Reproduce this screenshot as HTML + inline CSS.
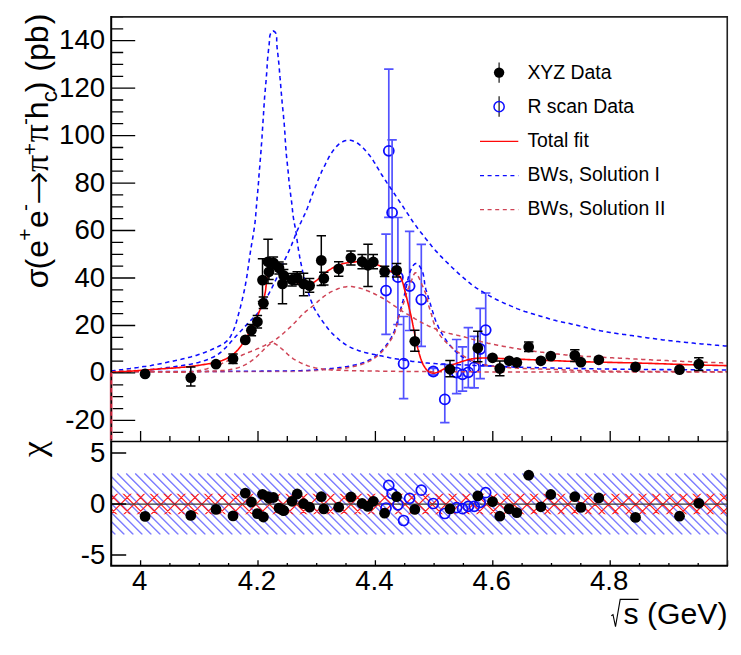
<!DOCTYPE html>
<html><head><meta charset="utf-8"><title>plot</title><style>html,body{margin:0;padding:0;background:#fff}</style></head><body>
<svg width="741" height="655" viewBox="0 0 741 655" style="display:block">
<rect width="741" height="655" fill="#fff"/>
<defs>
<clipPath id="cb"><rect x="111.2" y="473.0" width="616.05" height="61.8"/></clipPath>
<clipPath id="cr"><rect x="111.2" y="493.8" width="616.05" height="20.4"/></clipPath>
<clipPath id="cu"><rect x="111.2" y="16.9" width="616.05" height="424.5"/></clipPath>
</defs>
<path d="M9.2,473.4l61.2,61.2M18.2,473.4l61.2,61.2M27.2,473.4l61.2,61.2M36.2,473.4l61.2,61.2M45.2,473.4l61.2,61.2M54.2,473.4l61.2,61.2M63.2,473.4l61.2,61.2M72.2,473.4l61.2,61.2M81.2,473.4l61.2,61.2M90.2,473.4l61.2,61.2M99.2,473.4l61.2,61.2M108.2,473.4l61.2,61.2M117.2,473.4l61.2,61.2M126.2,473.4l61.2,61.2M135.2,473.4l61.2,61.2M144.2,473.4l61.2,61.2M153.2,473.4l61.2,61.2M162.2,473.4l61.2,61.2M171.2,473.4l61.2,61.2M180.2,473.4l61.2,61.2M189.2,473.4l61.2,61.2M198.2,473.4l61.2,61.2M207.2,473.4l61.2,61.2M216.2,473.4l61.2,61.2M225.2,473.4l61.2,61.2M234.2,473.4l61.2,61.2M243.2,473.4l61.2,61.2M252.2,473.4l61.2,61.2M261.2,473.4l61.2,61.2M270.2,473.4l61.2,61.2M279.2,473.4l61.2,61.2M288.2,473.4l61.2,61.2M297.2,473.4l61.2,61.2M306.2,473.4l61.2,61.2M315.2,473.4l61.2,61.2M324.2,473.4l61.2,61.2M333.2,473.4l61.2,61.2M342.2,473.4l61.2,61.2M351.2,473.4l61.2,61.2M360.2,473.4l61.2,61.2M369.2,473.4l61.2,61.2M378.2,473.4l61.2,61.2M387.2,473.4l61.2,61.2M396.2,473.4l61.2,61.2M405.2,473.4l61.2,61.2M414.2,473.4l61.2,61.2M423.2,473.4l61.2,61.2M432.2,473.4l61.2,61.2M441.2,473.4l61.2,61.2M450.2,473.4l61.2,61.2M459.2,473.4l61.2,61.2M468.2,473.4l61.2,61.2M477.2,473.4l61.2,61.2M486.2,473.4l61.2,61.2M495.2,473.4l61.2,61.2M504.2,473.4l61.2,61.2M513.2,473.4l61.2,61.2M522.2,473.4l61.2,61.2M531.2,473.4l61.2,61.2M540.2,473.4l61.2,61.2M549.2,473.4l61.2,61.2M558.2,473.4l61.2,61.2M567.2,473.4l61.2,61.2M576.2,473.4l61.2,61.2M585.2,473.4l61.2,61.2M594.2,473.4l61.2,61.2M603.2,473.4l61.2,61.2M612.2,473.4l61.2,61.2M621.2,473.4l61.2,61.2M630.2,473.4l61.2,61.2M639.2,473.4l61.2,61.2M648.2,473.4l61.2,61.2M657.2,473.4l61.2,61.2M666.2,473.4l61.2,61.2M675.2,473.4l61.2,61.2M684.2,473.4l61.2,61.2M693.2,473.4l61.2,61.2M702.2,473.4l61.2,61.2M711.2,473.4l61.2,61.2M720.2,473.4l61.2,61.2M729.2,473.4l61.2,61.2" stroke="#7e7eff" stroke-width="1.35" fill="none" clip-path="url(#cb)"/>
<path d="M2.1,467.6l60,60M62.1,467.6l-60,60M15.7,467.6l60,60M75.7,467.6l-60,60M29.2,467.6l60,60M89.2,467.6l-60,60M42.8,467.6l60,60M102.8,467.6l-60,60M56.4,467.6l60,60M116.4,467.6l-60,60M69.9,467.6l60,60M129.9,467.6l-60,60M83.5,467.6l60,60M143.5,467.6l-60,60M97.1,467.6l60,60M157.1,467.6l-60,60M110.6,467.6l60,60M170.6,467.6l-60,60M124.2,467.6l60,60M184.2,467.6l-60,60M137.8,467.6l60,60M197.8,467.6l-60,60M151.3,467.6l60,60M211.3,467.6l-60,60M164.9,467.6l60,60M224.9,467.6l-60,60M178.5,467.6l60,60M238.5,467.6l-60,60M192.0,467.6l60,60M252.0,467.6l-60,60M205.6,467.6l60,60M265.6,467.6l-60,60M219.1,467.6l60,60M279.1,467.6l-60,60M232.7,467.6l60,60M292.7,467.6l-60,60M246.3,467.6l60,60M306.3,467.6l-60,60M259.8,467.6l60,60M319.8,467.6l-60,60M273.4,467.6l60,60M333.4,467.6l-60,60M287.0,467.6l60,60M347.0,467.6l-60,60M300.5,467.6l60,60M360.5,467.6l-60,60M314.1,467.6l60,60M374.1,467.6l-60,60M327.7,467.6l60,60M387.7,467.6l-60,60M341.2,467.6l60,60M401.2,467.6l-60,60M354.8,467.6l60,60M414.8,467.6l-60,60M368.4,467.6l60,60M428.4,467.6l-60,60M381.9,467.6l60,60M441.9,467.6l-60,60M395.5,467.6l60,60M455.5,467.6l-60,60M409.1,467.6l60,60M469.1,467.6l-60,60M422.6,467.6l60,60M482.6,467.6l-60,60M436.2,467.6l60,60M496.2,467.6l-60,60M449.8,467.6l60,60M509.8,467.6l-60,60M463.3,467.6l60,60M523.3,467.6l-60,60M476.9,467.6l60,60M536.9,467.6l-60,60M490.4,467.6l60,60M550.4,467.6l-60,60M504.0,467.6l60,60M564.0,467.6l-60,60M517.6,467.6l60,60M577.6,467.6l-60,60M531.1,467.6l60,60M591.1,467.6l-60,60M544.7,467.6l60,60M604.7,467.6l-60,60M558.3,467.6l60,60M618.3,467.6l-60,60M571.8,467.6l60,60M631.8,467.6l-60,60M585.4,467.6l60,60M645.4,467.6l-60,60M599.0,467.6l60,60M659.0,467.6l-60,60M612.5,467.6l60,60M672.5,467.6l-60,60M626.1,467.6l60,60M686.1,467.6l-60,60M639.7,467.6l60,60M699.7,467.6l-60,60M653.2,467.6l60,60M713.2,467.6l-60,60M666.8,467.6l60,60M726.8,467.6l-60,60M680.4,467.6l60,60M740.4,467.6l-60,60M693.9,467.6l60,60M753.9,467.6l-60,60M707.5,467.6l60,60M767.5,467.6l-60,60M721.1,467.6l60,60M781.1,467.6l-60,60M734.6,467.6l60,60M794.6,467.6l-60,60" stroke="#ff1a1a" stroke-width="1.15" fill="none" clip-path="url(#cr)"/>
<line x1="111.2" y1="504.0" x2="727.25" y2="504.0" stroke="#333" stroke-width="1.25"/>
<g clip-path="url(#cu)" fill="none" stroke-linecap="butt">
<path d="M386,234.2V334.4M381.3,234.2h9.4M381.3,334.4h9.4" stroke="#5252ff" stroke-width="1.7"/>
<circle cx="386" cy="290.6" r="5" stroke="#0c0cff" stroke-width="1.8"/>
<path d="M388.8,69.2V217.4M384.1,69.2h9.4M384.1,217.4h9.4" stroke="#5252ff" stroke-width="1.7"/>
<circle cx="388.8" cy="150.8" r="5" stroke="#0c0cff" stroke-width="1.8"/>
<path d="M392.1,139.8V272M387.40000000000003,139.8h9.4M387.40000000000003,272h9.4" stroke="#5252ff" stroke-width="1.7"/>
<circle cx="392.1" cy="212.6" r="5" stroke="#0c0cff" stroke-width="1.8"/>
<path d="M397.9,217.5V324.5M393.2,217.5h9.4M393.2,324.5h9.4" stroke="#5252ff" stroke-width="1.7"/>
<circle cx="397.9" cy="277.2" r="5" stroke="#0c0cff" stroke-width="1.8"/>
<path d="M403.6,316.5V398.6M398.90000000000003,316.5h9.4M398.90000000000003,398.6h9.4" stroke="#5252ff" stroke-width="1.7"/>
<circle cx="403.6" cy="363.7" r="5" stroke="#0c0cff" stroke-width="1.8"/>
<path d="M409.6,231.3V330.5M404.90000000000003,231.3h9.4M404.90000000000003,330.5h9.4" stroke="#5252ff" stroke-width="1.7"/>
<circle cx="409.6" cy="286.1" r="5" stroke="#0c0cff" stroke-width="1.8"/>
<path d="M421.3,244.3V346.4M416.6,244.3h9.4M416.6,346.4h9.4" stroke="#5252ff" stroke-width="1.7"/>
<circle cx="421.3" cy="299.6" r="5" stroke="#0c0cff" stroke-width="1.8"/>
<path d="M433.3,368.3V374.7M428.6,368.3h9.4M428.6,374.7h9.4" stroke="#5252ff" stroke-width="1.7"/>
<circle cx="433.3" cy="371.5" r="5" stroke="#0c0cff" stroke-width="1.8"/>
<path d="M444.8,364.5V422.6M440.1,364.5h9.4M440.1,422.6h9.4" stroke="#5252ff" stroke-width="1.7"/>
<circle cx="444.8" cy="399.4" r="5" stroke="#0c0cff" stroke-width="1.8"/>
<path d="M456.6,339.5V393.6M451.90000000000003,339.5h9.4M451.90000000000003,393.6h9.4" stroke="#5252ff" stroke-width="1.7"/>
<circle cx="456.6" cy="372.6" r="5" stroke="#0c0cff" stroke-width="1.8"/>
<path d="M462.5,346.8V391.1M457.8,346.8h9.4M457.8,391.1h9.4" stroke="#5252ff" stroke-width="1.7"/>
<circle cx="462.5" cy="374.3" r="5" stroke="#0c0cff" stroke-width="1.8"/>
<path d="M468.3,327.6V387.7M463.6,327.6h9.4M463.6,387.7h9.4" stroke="#5252ff" stroke-width="1.7"/>
<circle cx="468.3" cy="372.3" r="5" stroke="#0c0cff" stroke-width="1.8"/>
<path d="M474.2,336.4V387.8M469.5,336.4h9.4M469.5,387.8h9.4" stroke="#5252ff" stroke-width="1.7"/>
<circle cx="474.2" cy="367.4" r="5" stroke="#0c0cff" stroke-width="1.8"/>
<path d="M480.2,308.4V378.7M475.5,308.4h9.4M475.5,378.7h9.4" stroke="#5252ff" stroke-width="1.7"/>
<circle cx="480.2" cy="349" r="5" stroke="#0c0cff" stroke-width="1.8"/>
<path d="M485.7,293V366M481.0,293h9.4M481.0,366h9.4" stroke="#5252ff" stroke-width="1.7"/>
<circle cx="485.7" cy="330.1" r="5" stroke="#0c0cff" stroke-width="1.8"/>
<path d="M111.2,371.1 L113.1,370.8 L115.0,370.5 L116.9,370.3 L118.8,370.0 L120.7,369.7 L122.6,369.5 L124.5,369.2 L126.4,369.0 L128.3,368.7 L130.2,368.5 L132.1,368.2 L134.1,368.0 L136.0,367.7 L137.9,367.5 L139.8,367.2 L141.7,366.9 L143.6,366.6 L145.5,366.4 L147.4,366.1 L149.3,365.8 L151.2,365.5 L153.1,365.1 L154.9,364.8 L156.8,364.4 L158.7,364.1 L160.6,363.7 L162.5,363.3 L164.4,362.9 L166.3,362.5 L168.1,362.1 L170.0,361.7 L171.9,361.3 L173.8,360.9 L175.7,360.5 L177.5,360.1 L179.4,359.7 L181.3,359.3 L183.2,358.8 L185.0,358.4 L186.9,357.9 L188.8,357.4 L190.6,357.0 L192.5,356.5 L194.3,355.9 L196.2,355.4 L198.0,354.8 L199.8,354.2 L201.6,353.6 L203.4,352.9 L205.2,352.3 L207.0,351.6 L208.8,350.8 L210.5,350.1 L212.3,349.3 L214.1,348.5 L215.8,347.7 L217.6,346.9 L219.3,346.0 L221.1,345.1 L222.8,344.2 L224.4,343.1 L225.9,341.9 L227.3,340.7 L228.5,339.2 L229.7,337.7 L230.7,336.1 L231.6,334.3 L232.5,332.6 L233.3,330.8 L234.0,329.0 L234.7,327.2 L235.3,325.3 L235.9,323.5 L236.5,321.7 L237.0,319.8 L237.5,318.0 L238.0,316.1 L238.5,314.3 L239.0,312.4 L239.5,310.6 L240.0,308.7 L240.5,306.9 L240.9,305.0 L241.4,303.1 L241.8,301.3 L242.3,299.4 L242.7,297.5 L243.2,295.6 L243.6,293.8 L244.0,291.9 L244.4,290.0 L244.8,288.1 L245.1,286.2 L245.5,284.3 L245.8,282.5 L246.2,280.6 L246.5,278.7 L246.8,276.8 L247.1,274.9 L247.4,273.0 L247.7,271.1 L247.9,269.2 L248.2,267.3 L248.5,265.4 L248.7,263.5 L249.0,261.5 L249.3,259.6 L249.5,257.7 L249.8,255.8 L250.1,253.9 L250.4,252.0 L250.7,250.1 L251.0,248.2 L251.3,246.3 L251.6,244.5 L251.9,242.6 L252.2,240.7 L252.6,238.8 L252.9,236.9 L253.2,235.0 L253.5,233.1 L253.8,231.2 L254.1,229.3 L254.4,227.4 L254.6,225.5 L254.9,223.6 L255.1,221.7 L255.3,219.7 L255.5,217.8 L255.7,215.9 L255.8,214.0 L256.0,212.1 L256.1,210.2 L256.3,208.3 L256.4,206.3 L256.6,204.4 L256.7,202.5 L256.9,200.6 L257.1,198.7 L257.2,196.8 L257.4,194.9 L257.6,192.9 L257.8,191.0 L257.9,189.1 L258.1,187.2 L258.3,185.3 L258.4,183.4 L258.6,181.5 L258.7,179.5 L258.8,177.6 L259.0,175.7 L259.1,173.8 L259.3,171.9 L259.4,170.0 L259.6,168.0 L259.8,166.1 L259.9,164.2 L260.1,162.3 L260.2,160.4 L260.4,158.5 L260.6,156.6 L260.7,154.6 L260.9,152.7 L261.0,150.8 L261.2,148.9 L261.3,147.0 L261.4,145.1 L261.6,143.1 L261.7,141.2 L261.8,139.3 L262.0,137.4 L262.1,135.5 L262.2,133.5 L262.3,131.6 L262.5,129.7 L262.6,127.8 L262.7,125.9 L262.8,124.0 L263.0,122.0 L263.1,120.1 L263.2,118.2 L263.3,116.3 L263.5,114.4 L263.6,112.5 L263.7,110.5 L263.8,108.6 L264.0,106.7 L264.1,104.8 L264.2,102.9 L264.4,100.9 L264.5,99.0 L264.6,97.1 L264.8,95.2 L265.0,93.3 L265.1,91.4 L265.3,89.5 L265.4,87.5 L265.6,85.6 L265.8,83.7 L266.0,81.8 L266.1,79.9 L266.3,78.0 L266.4,76.1 L266.6,74.1 L266.7,72.2 L266.8,70.3 L267.0,68.4 L267.1,66.5 L267.2,64.5 L267.3,62.6 L267.4,60.7 L267.6,58.8 L267.8,56.9 L267.9,55.0 L268.2,53.1 L268.4,51.1 L268.6,49.2 L268.8,47.3 L269.1,45.4 L269.2,43.5 L269.4,41.6 L269.5,39.7 L269.6,37.8 L269.8,35.9 L270.4,34.0 L271.5,32.2 L273.1,31.0 L274.7,31.7 L275.9,33.4 L276.5,35.3 L276.7,37.2 L276.7,39.1 L276.7,41.1 L276.8,43.0 L276.9,44.9 L277.0,46.8 L277.2,48.7 L277.4,50.7 L277.7,52.6 L277.9,54.5 L278.1,56.4 L278.3,58.3 L278.5,60.2 L278.7,62.1 L278.9,64.0 L279.0,65.9 L279.2,67.9 L279.4,69.8 L279.5,71.7 L279.7,73.6 L279.9,75.5 L280.0,77.4 L280.2,79.4 L280.3,81.3 L280.5,83.2 L280.7,85.1 L280.8,87.0 L281.0,88.9 L281.1,90.8 L281.3,92.8 L281.5,94.7 L281.6,96.6 L281.8,98.5 L282.0,100.4 L282.1,102.3 L282.3,104.2 L282.5,106.2 L282.7,108.1 L282.9,110.0 L283.1,111.9 L283.3,113.8 L283.5,115.7 L283.6,117.6 L283.8,119.5 L284.0,121.5 L284.2,123.4 L284.3,125.3 L284.5,127.2 L284.6,129.1 L284.7,131.0 L284.9,133.0 L285.0,134.9 L285.1,136.8 L285.2,138.7 L285.3,140.6 L285.5,142.5 L285.6,144.5 L285.7,146.4 L285.9,148.3 L286.0,150.2 L286.2,152.1 L286.3,154.0 L286.5,156.0 L286.7,157.9 L286.9,159.8 L287.1,161.7 L287.3,163.6 L287.5,165.5 L287.7,167.4 L287.9,169.3 L288.1,171.2 L288.3,173.2 L288.5,175.1 L288.6,177.0 L288.8,178.9 L289.0,180.8 L289.2,182.7 L289.4,184.6 L289.6,186.5 L289.9,188.5 L290.1,190.4 L290.3,192.3 L290.6,194.2 L290.8,196.1 L291.1,198.0 L291.3,199.9 L291.6,201.8 L291.8,203.7 L292.0,205.6 L292.2,207.5 L292.4,209.4 L292.6,211.4 L292.8,213.3 L293.1,215.2 L293.3,217.1 L293.6,219.0 L293.9,220.9 L294.3,222.8 L294.6,224.6 L295.0,226.5 L295.4,228.4 L295.7,230.3 L296.0,232.2 L296.3,234.1 L296.5,236.0 L296.8,237.9 L297.0,239.8 L297.3,241.7 L297.6,243.6 L297.8,245.5 L298.1,247.4 L298.4,249.3 L298.7,251.2 L299.1,253.1 L299.4,255.0 L299.7,256.9 L300.1,258.8 L300.5,260.7 L300.8,262.6 L301.2,264.5 L301.6,266.3 L302.0,268.2 L302.4,270.1 L302.8,272.0 L303.3,273.8 L303.7,275.7 L304.2,277.6 L304.7,279.4 L305.1,281.3 L305.6,283.2 L306.2,285.0 L306.7,286.9 L307.2,288.7 L307.8,290.5 L308.3,292.4 L308.9,294.2 L309.5,296.0 L310.1,297.9 L310.7,299.7 L311.4,301.5 L312.1,303.3 L312.8,305.1 L313.6,306.8 L314.4,308.6 L315.3,310.2 L316.3,311.9 L317.3,313.5 L318.4,315.2 L319.4,316.8 L320.5,318.3 L321.6,319.9 L322.7,321.5 L323.9,323.1 L325.0,324.6 L326.2,326.1 L327.3,327.7 L328.5,329.2 L329.8,330.6 L331.0,332.1 L332.3,333.5 L333.7,334.9 L335.1,336.2 L336.5,337.5 L338.0,338.7 L339.4,340.0 L340.9,341.2 L342.5,342.4 L344.0,343.5 L345.6,344.6 L347.2,345.6 L348.9,346.5 L350.6,347.4 L352.4,348.2 L354.2,348.9 L356.0,349.6 L357.8,350.3 L359.6,350.9 L361.4,351.5 L363.3,352.0 L365.1,352.6 L367.0,353.0 L368.9,353.5 L370.7,353.9 L372.6,354.2 L374.5,354.6 L376.4,355.0 L378.3,355.3 L380.2,355.7 L382.1,356.1 L383.9,356.5 L385.8,356.9 L387.7,357.3 L389.6,357.7 L391.5,358.0 L393.4,358.4 L395.2,358.7 L397.1,359.0 L399.0,359.3 L400.9,359.6 L402.8,359.9 L404.7,360.2 L406.6,360.5 L408.5,360.8 L410.4,361.1 L412.3,361.4 L414.2,361.6 L416.2,361.9 L418.1,362.1 L420.0,362.3 L421.9,362.5 L423.8,362.7 L425.7,362.9 L427.6,363.0 L429.5,363.2 L431.5,363.3 L433.4,363.4 L435.3,363.6 L437.2,363.7 L439.1,363.8 L441.0,363.9 L443.0,364.0 L444.9,364.1 L446.8,364.2 L448.7,364.3 L450.6,364.4 L452.6,364.4 L454.5,364.5 L456.4,364.6 L458.3,364.7 L460.2,364.8 L462.2,364.9 L464.1,365.0 L466.0,365.0 L467.9,365.1 L469.8,365.2 L471.8,365.3 L473.7,365.4 L475.6,365.4 L477.5,365.5 L479.4,365.6 L481.4,365.7 L483.3,365.7 L485.2,365.8 L487.1,365.9 L489.0,366.0 L491.0,366.0 L492.9,366.1 L494.8,366.2 L496.7,366.3 L498.6,366.3 L500.6,366.4 L502.5,366.5 L504.4,366.6 L506.3,366.6 L508.3,366.7 L510.2,366.8 L512.1,366.9 L514.0,366.9 L515.9,367.0 L517.9,367.1 L519.8,367.1 L521.7,367.2 L523.6,367.3 L525.5,367.3 L527.5,367.4 L529.4,367.4 L531.3,367.5 L533.2,367.6 L535.1,367.6 L537.1,367.7 L539.0,367.7 L540.9,367.8 L542.8,367.8 L544.7,367.8 L546.7,367.9 L548.6,367.9 L550.5,368.0 L552.4,368.0 L554.4,368.0 L556.3,368.1 L558.2,368.1 L560.1,368.2 L562.0,368.2 L564.0,368.2 L565.9,368.3 L567.8,368.3 L569.7,368.3 L571.6,368.4 L573.6,368.4 L575.5,368.4 L577.4,368.5 L579.3,368.5 L581.3,368.6 L583.2,368.6 L585.1,368.6 L587.0,368.7 L588.9,368.7 L590.9,368.7 L592.8,368.8 L594.7,368.8 L596.6,368.8 L598.5,368.9 L600.5,368.9 L602.4,368.9 L604.3,369.0 L606.2,369.0 L608.2,369.0 L610.1,369.1 L612.0,369.1 L613.9,369.1 L615.8,369.1 L617.8,369.2 L619.7,369.2 L621.6,369.2 L623.5,369.2 L625.4,369.3 L627.4,369.3 L629.3,369.3 L631.2,369.3 L633.1,369.3 L635.1,369.4 L637.0,369.4 L638.9,369.4 L640.8,369.4 L642.7,369.4 L644.7,369.5 L646.6,369.5 L648.5,369.5 L650.4,369.5 L652.4,369.5 L654.3,369.5 L656.2,369.5 L658.1,369.6 L660.0,369.6 L662.0,369.6 L663.9,369.6 L665.8,369.6 L667.7,369.6 L669.6,369.6 L671.6,369.7 L673.5,369.7 L675.4,369.7 L677.3,369.7 L679.3,369.7 L681.2,369.7 L683.1,369.7 L685.0,369.7 L686.9,369.7 L688.9,369.8 L690.8,369.8 L692.7,369.8 L694.6,369.8 L696.6,369.8 L698.5,369.8 L700.4,369.8 L702.3,369.8 L704.2,369.9 L706.2,369.9 L708.1,369.9 L710.0,369.9 L711.9,369.9 L713.8,369.9 L715.8,369.9 L717.7,369.9 L719.6,369.9 L721.5,370.0 L723.5,370.0 L725.4,370.0 L727.3,370.0" stroke="#0c0cff" stroke-width="1.55" stroke-dasharray="4.3 3.5"/>
<path d="M111.2,371.3 L112.6,371.4 L114.0,371.4 L115.4,371.4 L116.7,371.5 L118.1,371.5 L119.5,371.5 L120.9,371.5 L122.2,371.5 L123.6,371.5 L125.0,371.5 L126.4,371.4 L127.8,371.4 L129.1,371.3 L130.5,371.3 L131.9,371.2 L133.2,371.1 L134.6,371.1 L136.0,371.0 L137.4,370.9 L138.7,370.8 L140.1,370.7 L141.5,370.6 L142.8,370.5 L144.2,370.3 L145.6,370.2 L146.9,370.1 L148.3,369.9 L149.6,369.8 L151.0,369.6 L152.4,369.5 L153.7,369.3 L155.1,369.2 L156.5,369.0 L157.8,368.9 L159.2,368.7 L160.6,368.5 L161.9,368.3 L163.3,368.2 L164.6,368.0 L166.0,367.8 L167.4,367.6 L168.7,367.4 L170.1,367.2 L171.5,367.1 L172.8,366.9 L174.2,366.7 L175.5,366.5 L176.9,366.3 L178.3,366.1 L179.6,365.9 L181.0,365.7 L182.3,365.5 L183.7,365.3 L185.1,365.1 L186.4,364.9 L187.8,364.6 L189.1,364.4 L190.5,364.2 L191.8,363.9 L193.2,363.6 L194.5,363.3 L195.9,363.0 L197.2,362.7 L198.5,362.4 L199.9,362.0 L201.2,361.7 L202.5,361.3 L203.8,360.9 L205.1,360.4 L206.4,360.0 L207.7,359.5 L209.0,359.0 L210.3,358.5 L211.5,357.9 L212.8,357.3 L214.0,356.7 L215.2,356.0 L216.4,355.3 L217.5,354.6 L218.7,353.8 L219.8,353.0 L220.9,352.2 L221.9,351.3 L222.9,350.3 L223.9,349.4 L224.9,348.4 L225.9,347.5 L226.8,346.4 L227.8,345.4 L228.7,344.4 L229.6,343.4 L230.5,342.3 L231.4,341.3 L232.3,340.3 L233.2,339.2 L234.1,338.2 L235.0,337.2 L235.9,336.2 L236.9,335.2 L237.8,334.2 L238.8,333.2 L239.7,332.2 L240.6,331.2 L241.6,330.2 L242.5,329.2 L243.5,328.1 L244.4,327.1 L245.3,326.1 L246.3,325.1 L247.2,324.1 L248.1,323.1 L249.1,322.1 L250.0,321.1 L251.0,320.1 L251.9,319.2 L252.9,318.2 L253.9,317.2 L254.9,316.3 L255.9,315.3 L256.8,314.3 L257.7,313.3 L258.6,312.2 L259.4,311.1 L260.2,310.0 L260.9,308.9 L261.6,307.7 L262.3,306.5 L263.0,305.3 L263.7,304.1 L264.3,302.8 L264.9,301.6 L265.5,300.4 L266.2,299.1 L266.8,297.9 L267.4,296.6 L268.0,295.4 L268.6,294.2 L269.3,292.9 L269.9,291.7 L270.5,290.5 L271.1,289.3 L271.8,288.0 L272.4,286.8 L273.0,285.6 L273.6,284.4 L274.2,283.1 L274.8,281.9 L275.4,280.7 L276.0,279.5 L276.6,278.2 L277.2,277.0 L277.8,275.7 L278.3,274.5 L278.9,273.2 L279.5,272.0 L280.0,270.7 L280.6,269.5 L281.1,268.2 L281.7,266.9 L282.2,265.7 L282.8,264.4 L283.3,263.2 L283.9,261.9 L284.5,260.6 L285.0,259.4 L285.6,258.2 L286.2,256.9 L286.8,255.7 L287.3,254.4 L287.9,253.2 L288.5,251.9 L289.1,250.7 L289.6,249.4 L290.2,248.2 L290.7,246.9 L291.3,245.6 L291.8,244.4 L292.3,243.1 L292.8,241.8 L293.3,240.5 L293.8,239.3 L294.3,238.0 L294.8,236.7 L295.3,235.4 L295.9,234.1 L296.4,232.9 L296.9,231.6 L297.4,230.3 L297.9,229.1 L298.5,227.8 L299.0,226.5 L299.6,225.3 L300.1,224.0 L300.7,222.8 L301.3,221.5 L301.9,220.3 L302.5,219.1 L303.0,217.8 L303.6,216.6 L304.2,215.3 L304.8,214.1 L305.3,212.8 L305.9,211.6 L306.4,210.3 L307.0,209.0 L307.5,207.8 L308.0,206.5 L308.5,205.2 L309.0,203.9 L309.5,202.6 L309.9,201.3 L310.4,200.0 L310.8,198.7 L311.3,197.4 L311.8,196.2 L312.2,194.9 L312.7,193.6 L313.2,192.3 L313.7,191.0 L314.2,189.7 L314.7,188.4 L315.2,187.2 L315.7,185.9 L316.3,184.6 L316.8,183.4 L317.3,182.1 L317.8,180.8 L318.3,179.5 L318.8,178.3 L319.4,177.0 L319.9,175.7 L320.4,174.5 L321.0,173.2 L321.5,171.9 L322.1,170.7 L322.7,169.5 L323.3,168.3 L324.0,167.0 L324.6,165.8 L325.2,164.6 L325.8,163.3 L326.4,162.1 L327.0,160.9 L327.6,159.6 L328.3,158.4 L328.9,157.2 L329.6,156.0 L330.3,154.8 L331.0,153.7 L331.8,152.5 L332.6,151.4 L333.4,150.3 L334.2,149.2 L335.1,148.2 L336.0,147.1 L336.9,146.1 L337.9,145.1 L338.9,144.2 L340.0,143.4 L341.2,142.6 L342.4,141.9 L343.6,141.3 L344.9,140.8 L346.2,140.5 L347.6,140.3 L349.0,140.2 L350.4,140.3 L351.7,140.6 L353.0,141.0 L354.3,141.5 L355.6,142.1 L356.8,142.8 L358.0,143.5 L359.1,144.4 L360.1,145.2 L361.2,146.1 L362.2,147.1 L363.1,148.0 L364.1,149.0 L365.0,150.0 L366.0,151.1 L366.9,152.1 L367.8,153.1 L368.6,154.2 L369.5,155.3 L370.3,156.4 L371.1,157.5 L371.9,158.6 L372.6,159.8 L373.4,160.9 L374.1,162.1 L374.9,163.3 L375.6,164.4 L376.3,165.6 L377.0,166.8 L377.7,168.0 L378.4,169.2 L379.1,170.3 L379.8,171.5 L380.5,172.7 L381.2,173.9 L381.9,175.0 L382.7,176.2 L383.4,177.4 L384.1,178.5 L384.9,179.7 L385.7,180.8 L386.4,181.9 L387.2,183.1 L388.0,184.2 L388.7,185.4 L389.5,186.5 L390.3,187.6 L391.0,188.8 L391.8,189.9 L392.6,191.1 L393.3,192.2 L394.1,193.3 L394.9,194.5 L395.6,195.6 L396.4,196.8 L397.2,197.9 L397.9,199.1 L398.7,200.2 L399.4,201.3 L400.2,202.5 L401.0,203.6 L401.7,204.8 L402.5,205.9 L403.3,207.0 L404.0,208.2 L404.8,209.3 L405.5,210.5 L406.3,211.6 L407.0,212.8 L407.8,213.9 L408.6,215.1 L409.3,216.2 L410.1,217.4 L410.8,218.5 L411.6,219.7 L412.3,220.8 L413.1,222.0 L413.9,223.1 L414.7,224.2 L415.5,225.3 L416.3,226.4 L417.1,227.5 L417.9,228.6 L418.8,229.7 L419.6,230.8 L420.5,231.9 L421.3,233.0 L422.2,234.0 L423.0,235.1 L423.9,236.2 L424.7,237.3 L425.6,238.4 L426.4,239.4 L427.3,240.5 L428.1,241.6 L429.0,242.7 L429.8,243.7 L430.7,244.8 L431.6,245.9 L432.5,246.9 L433.3,248.0 L434.2,249.0 L435.1,250.1 L436.0,251.1 L437.0,252.1 L437.9,253.1 L438.8,254.1 L439.8,255.1 L440.7,256.1 L441.7,257.1 L442.6,258.1 L443.6,259.1 L444.6,260.0 L445.5,261.0 L446.5,262.0 L447.5,262.9 L448.5,263.9 L449.5,264.9 L450.5,265.8 L451.4,266.8 L452.4,267.7 L453.4,268.7 L454.4,269.6 L455.4,270.6 L456.4,271.5 L457.4,272.4 L458.4,273.4 L459.5,274.3 L460.5,275.2 L461.5,276.1 L462.6,277.0 L463.6,277.9 L464.7,278.8 L465.7,279.7 L466.8,280.6 L467.8,281.4 L468.9,282.3 L469.9,283.2 L471.0,284.1 L472.1,284.9 L473.2,285.7 L474.3,286.5 L475.4,287.3 L476.5,288.1 L477.7,288.8 L478.9,289.6 L480.0,290.3 L481.2,291.0 L482.4,291.7 L483.6,292.4 L484.8,293.1 L485.9,293.8 L487.1,294.5 L488.3,295.2 L489.5,295.9 L490.7,296.5 L491.9,297.2 L493.1,297.9 L494.3,298.5 L495.6,299.1 L496.8,299.7 L498.0,300.3 L499.3,300.9 L500.5,301.5 L501.8,302.1 L503.0,302.6 L504.3,303.2 L505.5,303.7 L506.8,304.2 L508.1,304.8 L509.3,305.3 L510.6,305.9 L511.9,306.4 L513.1,307.0 L514.4,307.5 L515.6,308.0 L516.9,308.6 L518.2,309.1 L519.5,309.6 L520.8,310.0 L522.1,310.5 L523.4,310.9 L524.7,311.4 L526.0,311.8 L527.3,312.2 L528.6,312.6 L529.9,313.0 L531.2,313.4 L532.5,313.8 L533.9,314.2 L535.2,314.6 L536.5,315.0 L537.8,315.4 L539.1,315.8 L540.4,316.2 L541.8,316.6 L543.1,317.0 L544.4,317.3 L545.7,317.7 L547.0,318.1 L548.3,318.5 L549.7,318.9 L551.0,319.3 L552.3,319.6 L553.6,320.0 L555.0,320.3 L556.3,320.7 L557.6,321.0 L559.0,321.3 L560.3,321.6 L561.7,321.9 L563.0,322.2 L564.3,322.5 L565.7,322.8 L567.0,323.0 L568.4,323.3 L569.7,323.6 L571.1,323.9 L572.4,324.2 L573.7,324.5 L575.1,324.8 L576.4,325.1 L577.8,325.4 L579.1,325.8 L580.4,326.1 L581.8,326.4 L583.1,326.8 L584.4,327.1 L585.8,327.4 L587.1,327.8 L588.4,328.1 L589.8,328.4 L591.1,328.7 L592.4,329.1 L593.8,329.4 L595.1,329.7 L596.4,330.0 L597.8,330.2 L599.1,330.5 L600.5,330.8 L601.8,331.0 L603.2,331.3 L604.5,331.5 L605.9,331.8 L607.2,332.0 L608.6,332.2 L610.0,332.4 L611.3,332.6 L612.7,332.9 L614.0,333.1 L615.4,333.3 L616.8,333.5 L618.1,333.7 L619.5,333.9 L620.8,334.1 L622.2,334.2 L623.6,334.4 L624.9,334.6 L626.3,334.8 L627.6,335.0 L629.0,335.2 L630.4,335.4 L631.7,335.6 L633.1,335.8 L634.5,335.9 L635.8,336.1 L637.2,336.3 L638.5,336.5 L639.9,336.7 L641.3,336.9 L642.6,337.1 L644.0,337.3 L645.3,337.5 L646.7,337.7 L648.1,337.9 L649.4,338.0 L650.8,338.2 L652.1,338.4 L653.5,338.6 L654.9,338.8 L656.2,339.0 L657.6,339.1 L659.0,339.3 L660.3,339.5 L661.7,339.7 L663.0,339.9 L664.4,340.0 L665.8,340.2 L667.1,340.4 L668.5,340.5 L669.9,340.7 L671.2,340.8 L672.6,341.0 L673.9,341.2 L675.3,341.3 L676.7,341.5 L678.0,341.6 L679.4,341.8 L680.8,341.9 L682.1,342.0 L683.5,342.2 L684.9,342.3 L686.2,342.5 L687.6,342.6 L689.0,342.7 L690.3,342.9 L691.7,343.0 L693.1,343.1 L694.4,343.2 L695.8,343.4 L697.2,343.5 L698.6,343.6 L699.9,343.7 L701.3,343.9 L702.7,344.0 L704.0,344.1 L705.4,344.2 L706.8,344.3 L708.1,344.5 L709.5,344.6 L710.9,344.7 L712.2,344.8 L713.6,344.9 L715.0,345.1 L716.4,345.2 L717.7,345.3 L719.1,345.4 L720.5,345.5 L721.8,345.6 L723.2,345.7 L724.6,345.9 L725.9,346.0 L727.3,346.1" stroke="#0c0cff" stroke-width="1.55" stroke-dasharray="4.3 3.5"/>
<path d="M111.2,371.5 L112.1,371.5 L113.0,371.5 L113.9,371.5 L114.8,371.5 L115.7,371.5 L116.6,371.5 L117.5,371.5 L118.4,371.5 L119.3,371.5 L120.2,371.5 L121.1,371.5 L121.9,371.5 L122.8,371.5 L123.7,371.5 L124.6,371.5 L125.5,371.5 L126.4,371.5 L127.3,371.5 L128.2,371.5 L129.1,371.5 L130.0,371.5 L130.9,371.5 L131.8,371.5 L132.7,371.5 L133.6,371.5 L134.5,371.5 L135.4,371.5 L136.3,371.5 L137.2,371.5 L138.1,371.5 L139.0,371.5 L139.9,371.5 L140.7,371.5 L141.6,371.5 L142.5,371.5 L143.4,371.5 L144.3,371.5 L145.2,371.5 L146.1,371.5 L147.0,371.5 L147.9,371.5 L148.8,371.5 L149.7,371.5 L150.6,371.5 L151.5,371.5 L152.4,371.5 L153.3,371.5 L154.2,371.5 L155.1,371.5 L156.0,371.5 L156.9,371.5 L157.8,371.5 L158.6,371.5 L159.5,371.5 L160.4,371.5 L161.3,371.5 L162.2,371.5 L163.1,371.5 L164.0,371.5 L164.9,371.5 L165.8,371.5 L166.7,371.5 L167.6,371.5 L168.5,371.5 L169.4,371.5 L170.3,371.5 L171.2,371.5 L172.1,371.5 L173.0,371.5 L173.9,371.5 L174.8,371.5 L175.6,371.5 L176.5,371.5 L177.4,371.5 L178.3,371.5 L179.2,371.5 L180.1,371.5 L181.0,371.5 L181.9,371.5 L182.8,371.5 L183.7,371.5 L184.6,371.5 L185.5,371.5 L186.4,371.5 L187.3,371.5 L188.2,371.5 L189.1,371.5 L190.0,371.5 L190.9,371.5 L191.8,371.5 L192.6,371.5 L193.5,371.5 L194.4,371.5 L195.3,371.5 L196.2,371.5 L197.1,371.5 L198.0,371.5 L198.9,371.5 L199.8,371.5 L200.7,371.4 L201.6,371.4 L202.5,371.4 L203.4,371.4 L204.3,371.4 L205.2,371.4 L206.1,371.4 L207.0,371.4 L207.9,371.4 L208.7,371.4 L209.6,371.4 L210.5,371.4 L211.4,371.4 L212.3,371.4 L213.2,371.4 L214.1,371.4 L215.0,371.4 L215.9,371.4 L216.8,371.4 L217.7,371.4 L218.6,371.4 L219.5,371.4 L220.4,371.4 L221.3,371.4 L222.2,371.4 L223.1,371.4 L224.0,371.4 L224.9,371.4 L225.7,371.4 L226.6,371.4 L227.5,371.3 L228.4,371.3 L229.3,371.3 L230.2,371.3 L231.1,371.3 L232.0,371.3 L232.9,371.3 L233.8,371.3 L234.7,371.3 L235.6,371.3 L236.5,371.3 L237.4,371.3 L238.3,371.3 L239.2,371.3 L240.1,371.3 L241.0,371.3 L241.9,371.3 L242.7,371.3 L243.6,371.3 L244.5,371.3 L245.4,371.3 L246.3,371.2 L247.2,371.2 L248.1,371.2 L249.0,371.2 L249.9,371.2 L250.8,371.2 L251.7,371.2 L252.6,371.2 L253.5,371.2 L254.4,371.2 L255.3,371.2 L256.2,371.2 L257.1,371.2 L258.0,371.2 L258.9,371.2 L259.8,371.2 L260.6,371.2 L261.5,371.1 L262.4,371.1 L263.3,371.1 L264.2,371.1 L265.1,371.1 L266.0,371.1 L266.9,371.1 L267.8,371.1 L268.7,371.1 L269.6,371.1 L270.5,371.1 L271.4,371.1 L272.3,371.1 L273.2,371.1 L274.1,371.1 L275.0,371.0 L275.9,371.0 L276.8,371.0 L277.7,371.0 L278.6,371.0 L279.5,371.0 L280.3,371.0 L281.2,371.0 L282.1,371.0 L283.0,371.0 L283.9,371.0 L284.8,371.0 L285.7,370.9 L286.6,370.9 L287.5,370.9 L288.4,370.9 L289.3,370.9 L290.2,370.9 L291.1,370.9 L292.0,370.9 L292.9,370.8 L293.8,370.8 L294.7,370.8 L295.6,370.8 L296.5,370.8 L297.4,370.8 L298.3,370.7 L299.2,370.7 L300.1,370.7 L300.9,370.7 L301.8,370.6 L302.7,370.6 L303.6,370.6 L304.5,370.5 L305.4,370.5 L306.3,370.5 L307.2,370.4 L308.1,370.4 L309.0,370.3 L309.9,370.3 L310.8,370.2 L311.7,370.2 L312.6,370.1 L313.5,370.1 L314.4,370.0 L315.2,370.0 L316.1,369.9 L317.0,369.8 L317.9,369.8 L318.8,369.7 L319.7,369.6 L320.6,369.5 L321.5,369.5 L322.4,369.4 L323.3,369.3 L324.2,369.2 L325.0,369.1 L325.9,369.0 L326.8,368.9 L327.7,368.9 L328.6,368.8 L329.5,368.7 L330.4,368.6 L331.3,368.5 L332.2,368.4 L333.1,368.3 L334.0,368.2 L334.8,368.1 L335.7,368.0 L336.6,367.9 L337.5,367.8 L338.4,367.7 L339.3,367.6 L340.2,367.5 L341.1,367.4 L342.0,367.3 L342.8,367.2 L343.7,367.1 L344.6,367.0 L345.5,366.8 L346.4,366.7 L347.3,366.5 L348.1,366.4 L349.0,366.2 L349.9,366.0 L350.8,365.9 L351.7,365.7 L352.5,365.5 L353.4,365.3 L354.3,365.1 L355.2,364.9 L356.0,364.7 L356.9,364.5 L357.8,364.2 L358.6,364.0 L359.5,363.8 L360.4,363.5 L361.2,363.3 L362.1,363.0 L362.9,362.7 L363.8,362.4 L364.6,362.1 L365.5,361.8 L366.3,361.4 L367.1,361.1 L367.9,360.7 L368.7,360.3 L369.5,359.9 L370.3,359.5 L371.1,359.1 L371.9,358.6 L372.6,358.1 L373.4,357.6 L374.1,357.1 L374.9,356.6 L375.6,356.1 L376.3,355.5 L377.0,355.0 L377.7,354.4 L378.4,353.8 L379.0,353.2 L379.7,352.6 L380.3,352.0 L381.0,351.4 L381.6,350.7 L382.2,350.1 L382.8,349.4 L383.4,348.7 L384.0,348.1 L384.6,347.4 L385.1,346.7 L385.7,346.0 L386.2,345.3 L386.8,344.6 L387.3,343.8 L387.8,343.1 L388.3,342.3 L388.8,341.6 L389.3,340.8 L389.8,340.1 L390.2,339.3 L390.7,338.5 L391.1,337.8 L391.5,337.0 L391.9,336.2 L392.4,335.4 L392.7,334.6 L393.1,333.8 L393.5,332.9 L393.8,332.1 L394.2,331.3 L394.5,330.5 L394.8,329.6 L395.1,328.8 L395.4,327.9 L395.7,327.1 L396.0,326.2 L396.2,325.4 L396.5,324.5 L396.7,323.7 L397.0,322.8 L397.2,321.9 L397.5,321.1 L397.7,320.2 L397.9,319.3 L398.1,318.5 L398.4,317.6 L398.6,316.7 L398.8,315.9 L399.1,315.0 L399.3,314.1 L399.5,313.3 L399.8,312.4 L400.0,311.6 L400.2,310.7 L400.5,309.8 L400.7,309.0 L401.0,308.1 L401.2,307.3 L401.5,306.4 L401.7,305.5 L401.9,304.7 L402.2,303.8 L402.4,303.0 L402.7,302.1 L402.9,301.2 L403.1,300.4 L403.3,299.5 L403.6,298.6 L403.8,297.7 L404.0,296.9 L404.2,296.0 L404.4,295.1 L404.6,294.2 L404.8,293.3 L405.1,292.4 L405.3,291.6 L405.4,290.7 L405.6,289.8 L405.8,288.9 L406.0,288.0 L406.2,287.1 L406.4,286.3 L406.6,285.4 L406.8,284.5 L407.0,283.7 L407.1,282.8 L407.3,281.9 L407.5,281.1 L407.7,280.2 L407.9,279.4 L408.1,278.6 L408.3,277.8 L408.5,276.9 L408.7,276.1 L408.9,275.3 L409.1,274.5 L409.4,273.6 L409.7,272.8 L410.0,271.9 L410.3,271.1 L410.7,270.2 L411.1,269.3 L411.5,268.4 L412.0,267.5 L412.5,266.6 L413.1,265.7 L413.7,264.9 L414.3,264.3 L415.0,263.8 L415.7,263.5 L416.4,263.5 L417.1,263.8 L417.8,264.2 L418.5,264.9 L419.1,265.6 L419.8,266.5 L420.4,267.4 L420.9,268.3 L421.4,269.2 L421.8,270.1 L422.2,271.0 L422.6,271.9 L422.8,272.8 L423.1,273.6 L423.3,274.5 L423.5,275.4 L423.7,276.2 L423.8,277.1 L423.9,277.9 L424.0,278.8 L424.2,279.6 L424.3,280.5 L424.4,281.3 L424.5,282.2 L424.6,283.0 L424.7,283.9 L424.9,284.7 L425.0,285.6 L425.2,286.5 L425.4,287.3 L425.6,288.2 L425.8,289.0 L426.0,289.9 L426.3,290.8 L426.5,291.6 L426.8,292.5 L427.0,293.4 L427.3,294.2 L427.6,295.1 L427.9,295.9 L428.1,296.8 L428.4,297.7 L428.7,298.5 L429.0,299.4 L429.2,300.3 L429.5,301.1 L429.8,302.0 L430.1,302.9 L430.3,303.7 L430.6,304.6 L430.8,305.4 L431.1,306.3 L431.4,307.2 L431.6,308.0 L431.9,308.9 L432.1,309.7 L432.4,310.6 L432.6,311.4 L432.9,312.3 L433.2,313.2 L433.4,314.0 L433.7,314.9 L434.0,315.7 L434.2,316.5 L434.5,317.4 L434.8,318.2 L435.1,319.1 L435.4,319.9 L435.7,320.8 L436.1,321.6 L436.4,322.4 L436.7,323.3 L437.1,324.1 L437.4,324.9 L437.8,325.7 L438.2,326.5 L438.5,327.4 L438.9,328.2 L439.3,329.0 L439.7,329.8 L440.2,330.6 L440.6,331.3 L441.0,332.1 L441.5,332.9 L441.9,333.7 L442.4,334.4 L442.8,335.2 L443.3,336.0 L443.8,336.7 L444.3,337.5 L444.8,338.2 L445.3,339.0 L445.8,339.7 L446.3,340.4 L446.8,341.2 L447.4,341.9 L447.9,342.6 L448.4,343.3 L449.0,344.0 L449.5,344.7 L450.1,345.4 L450.7,346.1 L451.3,346.8 L451.8,347.5 L452.4,348.1 L453.0,348.8 L453.7,349.5 L454.3,350.1 L454.9,350.7 L455.5,351.4 L456.2,352.0 L456.9,352.6 L457.5,353.2 L458.2,353.8 L458.9,354.4 L459.6,354.9 L460.3,355.5 L461.0,356.0 L461.8,356.5 L462.5,357.0 L463.3,357.4 L464.1,357.9 L464.8,358.3 L465.6,358.8 L466.4,359.2 L467.2,359.6 L468.0,360.0 L468.9,360.3 L469.7,360.7 L470.5,361.0 L471.4,361.3 L472.2,361.7 L473.0,362.0 L473.9,362.3 L474.7,362.5 L475.6,362.8 L476.4,363.1 L477.3,363.3 L478.2,363.5 L479.0,363.8 L479.9,364.0 L480.8,364.2 L481.7,364.4 L482.5,364.6 L483.4,364.7 L484.3,364.9 L485.2,365.1 L486.0,365.2 L486.9,365.3 L487.8,365.5 L488.7,365.6 L489.6,365.7 L490.5,365.8 L491.4,365.9 L492.3,366.0 L493.2,366.1 L494.0,366.2 L494.9,366.3 L495.8,366.3 L496.7,366.4 L497.6,366.5 L498.5,366.5 L499.4,366.6 L500.3,366.6 L501.2,366.7 L502.1,366.7 L503.0,366.7 L503.9,366.8 L504.8,366.8 L505.7,366.8 L506.6,366.9 L507.5,366.9 L508.4,366.9 L509.3,366.9 L510.2,367.0 L511.1,367.0 L512.0,367.0 L512.9,367.0 L513.8,367.0 L514.7,367.1 L515.6,367.1 L516.5,367.1 L517.3,367.1 L518.2,367.1 L519.1,367.2 L520.0,367.2" stroke="#0c0cff" stroke-width="1.55" stroke-dasharray="4.3 3.5"/>
<path d="M111.2,372.0 L112.3,372.0 L113.3,371.9 L114.4,371.9 L115.4,371.9 L116.5,371.8 L117.5,371.8 L118.6,371.8 L119.6,371.8 L120.7,371.8 L121.8,371.7 L122.8,371.7 L123.9,371.7 L124.9,371.7 L126.0,371.7 L127.0,371.7 L128.1,371.7 L129.1,371.6 L130.2,371.6 L131.3,371.6 L132.3,371.6 L133.4,371.6 L134.4,371.6 L135.5,371.6 L136.5,371.6 L137.6,371.6 L138.6,371.6 L139.7,371.6 L140.8,371.6 L141.8,371.6 L142.9,371.6 L143.9,371.6 L145.0,371.6 L146.0,371.6 L147.1,371.6 L148.1,371.6 L149.2,371.6 L150.3,371.7 L151.3,371.7 L152.4,371.7 L153.4,371.7 L154.5,371.7 L155.5,371.7 L156.6,371.7 L157.6,371.7 L158.7,371.7 L159.8,371.7 L160.8,371.7 L161.9,371.7 L162.9,371.7 L164.0,371.7 L165.0,371.8 L166.1,371.8 L167.2,371.8 L168.2,371.8 L169.3,371.8 L170.3,371.8 L171.4,371.8 L172.4,371.8 L173.5,371.8 L174.5,371.8 L175.6,371.8 L176.7,371.8 L177.7,371.8 L178.8,371.8 L179.8,371.8 L180.9,371.8 L181.9,371.8 L183.0,371.8 L184.0,371.8 L185.1,371.8 L186.2,371.8 L187.2,371.8 L188.3,371.8 L189.3,371.7 L190.4,371.7 L191.4,371.7 L192.5,371.7 L193.5,371.7 L194.6,371.7 L195.7,371.7 L196.7,371.6 L197.8,371.6 L198.8,371.6 L199.9,371.6 L200.9,371.5 L202.0,371.5 L203.0,371.5 L204.1,371.4 L205.2,371.4 L206.2,371.4 L207.3,371.3 L208.3,371.3 L209.4,371.3 L210.4,371.2 L211.5,371.2 L212.5,371.1 L213.6,371.1 L214.7,371.0 L215.7,371.0 L216.8,370.9 L217.8,370.8 L218.9,370.8 L219.9,370.7 L221.0,370.6 L222.0,370.5 L223.1,370.5 L224.1,370.4 L225.2,370.2 L226.2,370.1 L227.3,370.0 L228.3,369.9 L229.4,369.7 L230.4,369.5 L231.5,369.3 L232.5,369.2 L233.5,368.9 L234.6,368.7 L235.6,368.5 L236.6,368.2 L237.6,367.9 L238.6,367.6 L239.6,367.2 L240.6,366.9 L241.6,366.5 L242.6,366.0 L243.5,365.6 L244.5,365.1 L245.4,364.7 L246.4,364.1 L247.3,363.6 L248.2,363.1 L249.1,362.5 L250.0,361.9 L250.8,361.3 L251.7,360.7 L252.5,360.1 L253.4,359.4 L254.2,358.8 L255.0,358.1 L255.8,357.4 L256.6,356.7 L257.4,356.0 L258.2,355.3 L258.9,354.5 L259.7,353.8 L260.4,353.0 L261.2,352.3 L261.9,351.5 L262.7,350.8 L263.4,350.0 L264.1,349.3 L264.9,348.5 L265.6,347.8 L266.3,347.1 L267.1,346.4 L267.9,345.7 L268.7,345.0 L269.6,344.3 L270.5,343.7 L271.5,343.2 L272.5,343.0 L273.5,343.1 L274.5,343.5 L275.5,344.0 L276.4,344.6 L277.3,345.2 L278.1,345.8 L278.9,346.4 L279.7,347.1 L280.5,347.8 L281.3,348.5 L282.1,349.1 L282.9,349.8 L283.7,350.5 L284.5,351.3 L285.3,352.0 L286.1,352.7 L286.8,353.4 L287.6,354.2 L288.4,354.9 L289.2,355.6 L290.0,356.3 L290.8,356.9 L291.6,357.6 L292.5,358.2 L293.3,358.8 L294.2,359.4 L295.1,359.9 L296.0,360.4 L297.0,360.9 L297.9,361.4 L298.9,361.9 L299.8,362.4 L300.8,362.9 L301.7,363.3 L302.7,363.8 L303.6,364.2 L304.6,364.6 L305.6,365.0 L306.6,365.4 L307.6,365.8 L308.6,366.1 L309.6,366.4 L310.6,366.8 L311.6,367.0 L312.6,367.3 L313.6,367.5 L314.7,367.8 L315.7,368.0 L316.7,368.2 L317.8,368.4 L318.8,368.5 L319.9,368.7 L320.9,368.8 L322.0,369.0 L323.0,369.1 L324.1,369.2 L325.1,369.3 L326.2,369.4 L327.2,369.5 L328.3,369.6 L329.3,369.7 L330.4,369.8 L331.4,369.9 L332.5,369.9 L333.5,370.0 L334.6,370.1 L335.6,370.1 L336.7,370.2 L337.8,370.2 L338.8,370.3 L339.9,370.3 L340.9,370.3 L342.0,370.4 L343.0,370.4 L344.1,370.4 L345.1,370.5 L346.2,370.5 L347.2,370.5 L348.3,370.6 L349.4,370.6 L350.4,370.6 L351.5,370.6 L352.5,370.7 L353.6,370.7 L354.6,370.7 L355.7,370.7 L356.7,370.8 L357.8,370.8 L358.9,370.8 L359.9,370.8 L361.0,370.8 L362.0,370.9 L363.1,370.9 L364.1,370.9 L365.2,370.9 L366.2,370.9 L367.3,371.0 L368.4,371.0 L369.4,371.0 L370.5,371.0 L371.5,371.0 L372.6,371.1 L373.6,371.1 L374.7,371.1 L375.7,371.1 L376.8,371.1 L377.9,371.1 L378.9,371.2 L380.0,371.2 L381.0,371.2 L382.1,371.2 L383.1,371.2 L384.2,371.2 L385.2,371.2 L386.3,371.2 L387.4,371.3 L388.4,371.3 L389.5,371.3 L390.5,371.3 L391.6,371.3 L392.6,371.3 L393.7,371.3 L394.7,371.3 L395.8,371.4 L396.9,371.4 L397.9,371.4 L399.0,371.4 L400.0,371.4 L401.1,371.4 L402.1,371.4 L403.2,371.4 L404.2,371.4 L405.3,371.5 L406.4,371.5 L407.4,371.5 L408.5,371.5 L409.5,371.5 L410.6,371.5 L411.6,371.5 L412.7,371.5 L413.7,371.5 L414.8,371.5 L415.9,371.5 L416.9,371.5 L418.0,371.6 L419.0,371.6 L420.1,371.6 L421.1,371.6 L422.2,371.6 L423.3,371.6 L424.3,371.6 L425.4,371.6 L426.4,371.6 L427.5,371.6 L428.5,371.6 L429.6,371.6 L430.6,371.6 L431.7,371.7 L432.8,371.7 L433.8,371.7 L434.9,371.7 L435.9,371.7 L437.0,371.7 L438.0,371.7 L439.1,371.7 L440.1,371.7 L441.2,371.7 L442.3,371.7 L443.3,371.7 L444.4,371.7 L445.4,371.7 L446.5,371.7 L447.5,371.7 L448.6,371.7 L449.6,371.7 L450.7,371.8 L451.8,371.8 L452.8,371.8 L453.9,371.8 L454.9,371.8 L456.0,371.8 L457.0,371.8 L458.1,371.8 L459.1,371.8 L460.2,371.8 L461.3,371.8 L462.3,371.8 L463.4,371.8 L464.4,371.8 L465.5,371.8 L466.5,371.8 L467.6,371.8 L468.6,371.8 L469.7,371.8 L470.8,371.8 L471.8,371.8 L472.9,371.8 L473.9,371.8 L475.0,371.8 L476.0,371.8 L477.1,371.8 L478.1,371.8 L479.2,371.9 L480.3,371.9 L481.3,371.9 L482.4,371.9 L483.4,371.9 L484.5,371.9 L485.5,371.9 L486.6,371.9 L487.7,371.9 L488.7,371.9 L489.8,371.9 L490.8,371.9 L491.9,371.9 L492.9,371.9 L494.0,371.9 L495.0,371.9 L496.1,371.9 L497.2,371.9 L498.2,371.9 L499.3,371.9 L500.3,371.9 L501.4,371.9 L502.4,371.9 L503.5,371.9 L504.5,371.9 L505.6,371.9 L506.7,371.9 L507.7,371.9 L508.8,371.9 L509.8,371.9 L510.9,371.9 L511.9,371.9 L513.0,371.9 L514.0,371.9 L515.1,371.9 L516.2,371.9 L517.2,371.9 L518.3,371.9 L519.3,371.9 L520.4,371.9 L521.4,371.9 L522.5,371.9 L523.5,371.9 L524.6,371.9 L525.7,371.9 L526.7,371.9 L527.8,371.9 L528.8,371.9 L529.9,372.0 L530.9,372.0 L532.0,372.0 L533.0,372.0 L534.1,372.0 L535.2,372.0 L536.2,372.0 L537.3,372.0 L538.3,372.0 L539.4,372.0 L540.4,372.0 L541.5,372.0 L542.5,372.0 L543.6,372.0 L544.7,372.0 L545.7,372.0 L546.8,372.0 L547.8,372.0 L548.9,372.0 L549.9,372.0 L551.0,372.0 L552.1,372.0 L553.1,372.0 L554.2,372.0 L555.2,372.0 L556.3,372.0 L557.3,372.0 L558.4,372.0 L559.4,372.0 L560.5,372.0 L561.6,372.0 L562.6,372.0 L563.7,372.0 L564.7,372.0 L565.8,372.0 L566.8,372.0 L567.9,372.0 L568.9,372.0 L570.0,372.0 L571.1,372.0 L572.1,372.0 L573.2,372.0 L574.2,372.0 L575.3,372.0 L576.3,372.0 L577.4,372.0 L578.4,372.0 L579.5,372.0 L580.6,372.0 L581.6,372.0 L582.7,372.0 L583.7,372.0 L584.8,372.0 L585.8,372.0 L586.9,372.0 L587.9,372.0 L589.0,372.0 L590.1,372.0 L591.1,372.0 L592.2,372.0 L593.2,372.0 L594.3,372.0 L595.3,372.0 L596.4,372.0 L597.4,372.0 L598.5,372.0 L599.6,372.0 L600.6,372.0 L601.7,372.0 L602.7,372.0 L603.8,372.0 L604.8,372.0 L605.9,372.0 L606.9,372.0 L608.0,372.0 L609.1,372.0 L610.1,372.0 L611.2,372.0 L612.2,372.0 L613.3,372.0 L614.3,372.0 L615.4,372.0 L616.4,372.0 L617.5,372.0 L618.6,372.0 L619.6,372.0 L620.7,372.0 L621.7,372.0 L622.8,372.0 L623.8,372.0 L624.9,372.0 L626.0,372.0 L627.0,372.0 L628.1,372.0 L629.1,372.0 L630.2,372.0 L631.2,372.0 L632.3,372.0 L633.3,372.0 L634.4,372.0 L635.5,372.0 L636.5,372.0 L637.6,372.0 L638.6,372.0 L639.7,372.0 L640.7,372.0 L641.8,372.0 L642.8,372.0 L643.9,372.0 L645.0,372.0 L646.0,372.0 L647.1,372.0 L648.1,372.0 L649.2,372.0 L650.2,372.0 L651.3,372.0 L652.3,372.0 L653.4,372.0 L654.5,372.0 L655.5,372.0 L656.6,372.0 L657.6,372.0 L658.7,372.0 L659.7,372.0 L660.8,372.0 L661.8,372.0 L662.9,372.0 L664.0,372.0 L665.0,372.0 L666.1,372.0 L667.1,372.0 L668.2,372.0 L669.2,372.0 L670.3,372.0 L671.3,372.0 L672.4,372.0 L673.5,372.0 L674.5,372.0 L675.6,372.0 L676.6,372.0 L677.7,372.0 L678.7,372.0 L679.8,372.0 L680.8,372.0 L681.9,372.0 L683.0,372.0 L684.0,372.0 L685.1,372.0 L686.1,372.0 L687.2,372.0 L688.2,372.0 L689.3,372.0 L690.3,371.9 L691.4,371.9 L692.5,371.9 L693.5,371.9 L694.6,371.9 L695.6,371.9 L696.7,371.9 L697.7,371.9 L698.8,371.9 L699.9,371.9 L700.9,371.9 L702.0,371.9 L703.0,371.9 L704.1,371.9 L705.1,371.9 L706.2,371.9 L707.2,371.9 L708.3,371.9 L709.4,371.9 L710.4,371.9 L711.5,371.9 L712.5,371.9 L713.6,371.9 L714.6,371.9 L715.7,371.9 L716.7,371.9 L717.8,371.9 L718.9,371.9 L719.9,371.9 L721.0,371.9 L722.0,371.9 L723.1,371.9 L724.1,371.9 L725.2,371.9 L726.2,371.9 L727.3,371.9" stroke="#cf4456" stroke-width="1.5" stroke-dasharray="4.3 3.5"/>
<path d="M111.2,372.0 L112.3,371.8 L113.4,371.7 L114.4,371.6 L115.5,371.4 L116.6,371.3 L117.7,371.2 L118.8,371.1 L119.9,371.0 L120.9,370.9 L122.0,370.9 L123.1,370.8 L124.2,370.8 L125.3,370.7 L126.4,370.7 L127.5,370.6 L128.6,370.6 L129.7,370.6 L130.7,370.6 L131.8,370.6 L132.9,370.6 L134.0,370.6 L135.1,370.6 L136.2,370.7 L137.3,370.7 L138.4,370.7 L139.5,370.8 L140.6,370.8 L141.7,370.8 L142.8,370.9 L143.9,370.9 L145.0,371.0 L146.1,371.0 L147.2,371.1 L148.3,371.1 L149.4,371.2 L150.5,371.3 L151.6,371.3 L152.7,371.4 L153.8,371.5 L154.9,371.5 L156.0,371.6 L157.1,371.6 L158.2,371.7 L159.3,371.8 L160.4,371.8 L161.5,371.9 L162.6,371.9 L163.7,372.0 L164.8,372.0 L165.9,372.1 L167.0,372.1 L168.1,372.2 L169.2,372.2 L170.3,372.2 L171.4,372.3 L172.5,372.3 L173.6,372.3 L174.7,372.3 L175.8,372.3 L176.9,372.3 L178.0,372.3 L179.1,372.3 L180.1,372.3 L181.2,372.2 L182.3,372.2 L183.4,372.2 L184.5,372.1 L185.6,372.1 L186.7,372.0 L187.8,371.9 L188.9,371.8 L190.0,371.7 L191.0,371.6 L192.1,371.5 L193.2,371.4 L194.3,371.2 L195.4,371.1 L196.5,370.9 L197.5,370.8 L198.6,370.6 L199.7,370.4 L200.8,370.2 L201.8,370.0 L202.9,369.7 L204.0,369.5 L205.1,369.2 L206.1,369.0 L207.2,368.7 L208.2,368.4 L209.3,368.1 L210.3,367.8 L211.4,367.5 L212.4,367.1 L213.5,366.8 L214.5,366.4 L215.5,366.0 L216.6,365.7 L217.6,365.3 L218.6,364.9 L219.6,364.4 L220.6,364.0 L221.6,363.6 L222.6,363.1 L223.6,362.7 L224.6,362.3 L225.6,361.8 L226.6,361.4 L227.6,360.9 L228.6,360.5 L229.6,360.1 L230.7,359.7 L231.7,359.3 L232.7,358.9 L233.7,358.5 L234.8,358.2 L235.8,357.8 L236.8,357.4 L237.8,357.0 L238.8,356.6 L239.8,356.1 L240.8,355.7 L241.8,355.3 L242.8,354.8 L243.8,354.4 L244.9,354.0 L245.9,353.5 L246.9,353.1 L247.9,352.7 L248.9,352.3 L249.9,351.9 L250.9,351.5 L251.9,351.0 L252.9,350.6 L253.9,350.2 L255.0,349.8 L256.0,349.4 L257.0,348.9 L258.0,348.5 L259.0,348.1 L260.0,347.6 L261.0,347.2 L262.0,346.7 L262.9,346.3 L263.9,345.8 L264.9,345.3 L265.9,344.8 L266.9,344.4 L267.9,343.9 L268.9,343.4 L269.8,342.9 L270.8,342.4 L271.8,341.8 L272.7,341.3 L273.6,340.7 L274.6,340.2 L275.5,339.6 L276.4,339.0 L277.3,338.3 L278.1,337.7 L279.0,337.0 L279.9,336.3 L280.7,335.6 L281.6,334.9 L282.4,334.2 L283.2,333.5 L284.0,332.8 L284.8,332.0 L285.7,331.3 L286.5,330.6 L287.3,329.8 L288.1,329.1 L288.9,328.3 L289.7,327.6 L290.5,326.9 L291.3,326.1 L292.1,325.3 L292.9,324.6 L293.6,323.8 L294.4,323.0 L295.2,322.2 L295.9,321.4 L296.6,320.6 L297.4,319.8 L298.1,319.0 L298.9,318.2 L299.6,317.4 L300.4,316.6 L301.1,315.8 L301.9,315.1 L302.7,314.3 L303.5,313.5 L304.3,312.8 L305.1,312.1 L305.9,311.4 L306.8,310.7 L307.6,310.0 L308.5,309.4 L309.4,308.7 L310.2,308.0 L311.1,307.3 L312.0,306.7 L312.8,306.0 L313.6,305.3 L314.5,304.5 L315.3,303.8 L316.1,303.1 L316.9,302.4 L317.7,301.6 L318.5,300.9 L319.3,300.2 L320.2,299.4 L321.0,298.7 L321.9,298.0 L322.7,297.4 L323.6,296.7 L324.4,296.0 L325.3,295.4 L326.2,294.7 L327.1,294.1 L328.0,293.5 L329.0,293.0 L329.9,292.4 L330.9,291.9 L331.9,291.4 L332.8,290.9 L333.8,290.4 L334.8,290.0 L335.8,289.6 L336.9,289.2 L337.9,288.8 L338.9,288.4 L340.0,288.1 L341.0,287.8 L342.1,287.5 L343.2,287.3 L344.2,287.1 L345.3,286.9 L346.4,286.7 L347.5,286.6 L348.6,286.6 L349.7,286.6 L350.8,286.6 L351.9,286.6 L353.0,286.7 L354.1,286.9 L355.1,287.0 L356.2,287.2 L357.3,287.4 L358.4,287.7 L359.4,288.0 L360.5,288.3 L361.5,288.6 L362.6,288.9 L363.6,289.3 L364.6,289.7 L365.6,290.1 L366.7,290.5 L367.7,290.9 L368.7,291.3 L369.7,291.7 L370.7,292.2 L371.7,292.6 L372.7,293.1 L373.7,293.5 L374.7,294.0 L375.7,294.5 L376.6,294.9 L377.6,295.4 L378.6,295.9 L379.5,296.5 L380.5,297.0 L381.5,297.5 L382.4,298.0 L383.4,298.6 L384.3,299.2 L385.2,299.7 L386.2,300.3 L387.1,300.9 L388.0,301.5 L388.9,302.1 L389.8,302.7 L390.8,303.3 L391.7,303.9 L392.5,304.5 L393.4,305.2 L394.3,305.8 L395.2,306.4 L396.1,307.0 L397.0,307.7 L397.9,308.3 L398.8,308.9 L399.7,309.5 L400.7,310.1 L401.6,310.7 L402.5,311.3 L403.4,311.8 L404.4,312.4 L405.3,312.9 L406.3,313.5 L407.2,314.1 L408.1,314.6 L409.1,315.2 L410.0,315.7 L411.0,316.3 L411.9,316.9 L412.8,317.4 L413.8,318.0 L414.7,318.6 L415.6,319.1 L416.6,319.7 L417.5,320.2 L418.5,320.8 L419.4,321.3 L420.4,321.9 L421.3,322.4 L422.3,322.9 L423.3,323.4 L424.2,323.9 L425.2,324.4 L426.2,324.9 L427.2,325.3 L428.2,325.8 L429.2,326.3 L430.2,326.7 L431.2,327.2 L432.2,327.6 L433.2,328.0 L434.2,328.4 L435.2,328.9 L436.2,329.3 L437.2,329.6 L438.3,330.0 L439.3,330.4 L440.3,330.7 L441.4,331.1 L442.4,331.4 L443.5,331.8 L444.5,332.1 L445.6,332.4 L446.6,332.7 L447.7,332.9 L448.7,333.2 L449.8,333.5 L450.8,333.7 L451.9,334.0 L453.0,334.2 L454.0,334.4 L455.1,334.7 L456.2,334.9 L457.2,335.2 L458.3,335.4 L459.4,335.7 L460.4,335.9 L461.5,336.2 L462.6,336.4 L463.6,336.7 L464.7,337.0 L465.7,337.3 L466.8,337.6 L467.8,337.9 L468.9,338.2 L469.9,338.5 L471.0,338.8 L472.0,339.1 L473.1,339.4 L474.1,339.7 L475.2,340.0 L476.2,340.3 L477.3,340.6 L478.4,340.9 L479.4,341.1 L480.5,341.4 L481.5,341.7 L482.6,341.9 L483.7,342.2 L484.7,342.4 L485.8,342.7 L486.9,342.9 L487.9,343.2 L489.0,343.4 L490.1,343.6 L491.1,343.9 L492.2,344.1 L493.3,344.3 L494.3,344.5 L495.4,344.7 L496.5,344.9 L497.6,345.2 L498.6,345.4 L499.7,345.6 L500.8,345.8 L501.9,346.0 L502.9,346.2 L504.0,346.4 L505.1,346.6 L506.2,346.8 L507.2,347.0 L508.3,347.2 L509.4,347.4 L510.5,347.5 L511.5,347.7 L512.6,347.9 L513.7,348.1 L514.8,348.3 L515.8,348.5 L516.9,348.6 L518.0,348.8 L519.1,349.0 L520.2,349.2 L521.2,349.3 L522.3,349.5 L523.4,349.7 L524.5,349.8 L525.6,350.0 L526.6,350.1 L527.7,350.3 L528.8,350.5 L529.9,350.6 L531.0,350.8 L532.1,350.9 L533.1,351.1 L534.2,351.2 L535.3,351.4 L536.4,351.5 L537.5,351.6 L538.6,351.8 L539.6,351.9 L540.7,352.1 L541.8,352.2 L542.9,352.3 L544.0,352.5 L545.1,352.6 L546.2,352.7 L547.2,352.9 L548.3,353.0 L549.4,353.1 L550.5,353.2 L551.6,353.4 L552.7,353.5 L553.8,353.6 L554.8,353.7 L555.9,353.9 L557.0,354.0 L558.1,354.1 L559.2,354.2 L560.3,354.3 L561.4,354.5 L562.5,354.6 L563.5,354.7 L564.6,354.8 L565.7,354.9 L566.8,355.0 L567.9,355.1 L569.0,355.2 L570.1,355.3 L571.2,355.4 L572.2,355.5 L573.3,355.6 L574.4,355.7 L575.5,355.8 L576.6,355.8 L577.7,355.9 L578.8,356.0 L579.9,356.0 L581.0,356.1 L582.1,356.2 L583.2,356.2 L584.2,356.3 L585.3,356.4 L586.4,356.4 L587.5,356.5 L588.6,356.5 L589.7,356.6 L590.8,356.6 L591.9,356.7 L593.0,356.8 L594.1,356.8 L595.2,356.9 L596.3,356.9 L597.3,357.0 L598.4,357.0 L599.5,357.1 L600.6,357.2 L601.7,357.2 L602.8,357.3 L603.9,357.3 L605.0,357.4 L606.1,357.5 L607.2,357.5 L608.3,357.6 L609.4,357.6 L610.4,357.7 L611.5,357.7 L612.6,357.8 L613.7,357.9 L614.8,357.9 L615.9,358.0 L617.0,358.0 L618.1,358.1 L619.2,358.2 L620.3,358.2 L621.4,358.3 L622.5,358.3 L623.5,358.4 L624.6,358.5 L625.7,358.5 L626.8,358.6 L627.9,358.6 L629.0,358.7 L630.1,358.8 L631.2,358.8 L632.3,358.9 L633.4,358.9 L634.5,359.0 L635.6,359.0 L636.6,359.1 L637.7,359.2 L638.8,359.2 L639.9,359.3 L641.0,359.3 L642.1,359.4 L643.2,359.4 L644.3,359.5 L645.4,359.6 L646.5,359.6 L647.6,359.7 L648.7,359.7 L649.7,359.8 L650.8,359.8 L651.9,359.9 L653.0,360.0 L654.1,360.0 L655.2,360.1 L656.3,360.1 L657.4,360.2 L658.5,360.2 L659.6,360.3 L660.7,360.3 L661.8,360.4 L662.8,360.4 L663.9,360.5 L665.0,360.5 L666.1,360.6 L667.2,360.6 L668.3,360.7 L669.4,360.8 L670.5,360.8 L671.6,360.9 L672.7,360.9 L673.8,361.0 L674.9,361.0 L676.0,361.1 L677.0,361.1 L678.1,361.2 L679.2,361.2 L680.3,361.3 L681.4,361.3 L682.5,361.4 L683.6,361.4 L684.7,361.4 L685.8,361.5 L686.9,361.5 L688.0,361.6 L689.1,361.6 L690.2,361.7 L691.2,361.7 L692.3,361.8 L693.4,361.8 L694.5,361.9 L695.6,361.9 L696.7,361.9 L697.8,362.0 L698.9,362.0 L700.0,362.1 L701.1,362.1 L702.2,362.2 L703.3,362.2 L704.4,362.2 L705.4,362.3 L706.5,362.3 L707.6,362.4 L708.7,362.4 L709.8,362.4 L710.9,362.5 L712.0,362.5 L713.1,362.6 L714.2,362.6 L715.3,362.6 L716.4,362.7 L717.5,362.7 L718.6,362.7 L719.7,362.8 L720.7,362.8 L721.8,362.8 L722.9,362.9 L724.0,362.9 L725.1,362.9 L726.2,363.0 L727.3,363.0" stroke="#cf4456" stroke-width="1.5" stroke-dasharray="4.3 3.5"/>
<path d="M111.2,371.9 L112.4,371.9 L113.6,371.9 L114.8,371.9 L116.1,371.9 L117.3,371.9 L118.5,371.9 L119.7,371.9 L120.9,371.9 L122.1,371.9 L123.3,371.9 L124.5,371.9 L125.8,371.9 L127.0,371.9 L128.2,371.9 L129.4,371.9 L130.6,371.9 L131.8,371.9 L133.0,371.9 L134.3,371.9 L135.5,371.9 L136.7,371.9 L137.9,371.9 L139.1,371.9 L140.3,371.9 L141.5,371.9 L142.7,371.9 L144.0,371.9 L145.2,371.9 L146.4,371.9 L147.6,371.9 L148.8,371.9 L150.0,371.9 L151.2,371.9 L152.5,371.9 L153.7,371.9 L154.9,371.9 L156.1,371.9 L157.3,371.9 L158.5,371.9 L159.7,371.9 L160.9,371.9 L162.2,371.9 L163.4,371.9 L164.6,371.9 L165.8,371.9 L167.0,371.9 L168.2,371.9 L169.4,371.9 L170.6,371.9 L171.9,371.9 L173.1,371.9 L174.3,371.9 L175.5,371.9 L176.7,371.9 L177.9,371.9 L179.1,371.9 L180.3,371.9 L181.6,371.9 L182.8,371.9 L184.0,371.9 L185.2,371.9 L186.4,371.9 L187.6,371.9 L188.8,371.9 L190.0,371.9 L191.3,371.9 L192.5,371.9 L193.7,371.9 L194.9,371.9 L196.1,371.9 L197.3,371.9 L198.5,371.9 L199.7,371.9 L201.0,371.8 L202.2,371.8 L203.4,371.8 L204.6,371.8 L205.8,371.8 L207.0,371.8 L208.2,371.8 L209.4,371.8 L210.7,371.8 L211.9,371.8 L213.1,371.8 L214.3,371.8 L215.5,371.8 L216.7,371.8 L217.9,371.8 L219.1,371.8 L220.4,371.8 L221.6,371.8 L222.8,371.8 L224.0,371.8 L225.2,371.8 L226.4,371.8 L227.6,371.7 L228.8,371.7 L230.1,371.7 L231.3,371.7 L232.5,371.7 L233.7,371.7 L234.9,371.7 L236.1,371.7 L237.3,371.7 L238.5,371.7 L239.8,371.7 L241.0,371.7 L242.2,371.7 L243.4,371.7 L244.6,371.7 L245.8,371.7 L247.0,371.7 L248.2,371.7 L249.5,371.7 L250.7,371.6 L251.9,371.6 L253.1,371.6 L254.3,371.6 L255.5,371.6 L256.7,371.6 L257.9,371.6 L259.2,371.6 L260.4,371.6 L261.6,371.6 L262.8,371.6 L264.0,371.6 L265.2,371.6 L266.4,371.6 L267.7,371.6 L268.9,371.6 L270.1,371.6 L271.3,371.5 L272.5,371.5 L273.7,371.5 L274.9,371.5 L276.1,371.5 L277.4,371.5 L278.6,371.5 L279.8,371.5 L281.0,371.5 L282.2,371.5 L283.4,371.5 L284.6,371.5 L285.9,371.5 L287.1,371.5 L288.3,371.4 L289.5,371.4 L290.7,371.4 L291.9,371.4 L293.1,371.4 L294.4,371.4 L295.6,371.4 L296.8,371.3 L298.0,371.3 L299.2,371.3 L300.4,371.3 L301.6,371.2 L302.8,371.2 L304.1,371.2 L305.3,371.1 L306.5,371.1 L307.7,371.1 L308.9,371.0 L310.1,371.0 L311.3,370.9 L312.5,370.9 L313.7,370.8 L315.0,370.7 L316.2,370.7 L317.4,370.6 L318.6,370.5 L319.8,370.4 L321.0,370.3 L322.2,370.2 L323.4,370.1 L324.6,370.0 L325.8,369.9 L327.1,369.8 L328.3,369.7 L329.5,369.6 L330.7,369.5 L331.9,369.4 L333.1,369.3 L334.3,369.2 L335.5,369.1" stroke="#cf4456" stroke-width="1.5" stroke-dasharray="4.3 3.5" opacity="0.62"/>
<path d="M335.5,369.1 L336.7,369.0 L337.9,368.9 L339.1,368.8 L340.3,368.7 L341.6,368.5 L342.8,368.4 L344.0,368.2 L345.2,368.1 L346.4,367.9 L347.6,367.7 L348.7,367.5 L349.9,367.3 L351.1,367.0 L352.3,366.8 L353.5,366.5 L354.7,366.2 L355.9,365.9 L357.0,365.6 L358.2,365.3 L359.4,365.0 L360.6,364.7 L361.7,364.3 L362.9,363.9 L364.0,363.5 L365.2,363.1 L366.3,362.6 L367.4,362.2 L368.5,361.6 L369.6,361.1 L370.7,360.5 L371.7,359.9 L372.7,359.3 L373.8,358.6 L374.8,358.0 L375.8,357.2 L376.7,356.5 L377.7,355.7 L378.6,354.9 L379.5,354.1 L380.4,353.3 L381.3,352.5 L382.1,351.6 L382.9,350.7 L383.7,349.8 L384.5,348.9 L385.3,347.9 L386.0,347.0 L386.7,346.0 L387.5,345.0 L388.2,344.0 L388.8,343.0 L389.5,342.0 L390.2,341.0 L390.8,339.9 L391.5,338.9 L392.1,337.8 L392.7,336.8 L393.3,335.7 L393.8,334.6 L394.3,333.5 L394.8,332.4 L395.2,331.3 L395.6,330.1 L395.9,329.0 L396.2,327.8 L396.5,326.6 L396.7,325.4 L396.9,324.2 L397.2,323.0 L397.4,321.8 L397.6,320.6 L397.9,319.5 L398.2,318.3 L398.6,317.1 L398.9,316.0 L399.3,314.9 L399.7,313.7 L400.1,312.6 L400.6,311.5 L401.0,310.3 L401.5,309.2 L401.9,308.1 L402.3,306.9 L402.7,305.7 L403.2,304.6 L403.5,303.4 L403.9,302.2 L404.3,301.0 L404.6,299.8 L405.0,298.6 L405.3,297.4 L405.7,296.2 L406.0,295.1 L406.4,293.9 L406.7,292.8 L407.1,291.7 L407.5,290.6 L407.9,289.6 L408.2,288.5 L408.7,287.5 L409.1,286.5 L409.5,285.5 L410.0,284.4 L410.5,283.3 L410.9,282.1 L411.4,280.8 L412.0,279.3 L412.5,277.8 L413.1,276.3 L413.7,274.9 L414.3,273.8 L414.9,273.0 L415.6,272.8 L416.3,273.1 L417.0,273.9 L417.7,275.1 L418.3,276.4 L418.9,277.7 L419.5,278.9 L420.0,280.0 L420.5,281.1 L421.0,282.1 L421.4,283.1 L421.8,284.2 L422.3,285.3 L422.7,286.4 L423.2,287.5 L423.7,288.7 L424.1,289.8 L424.6,291.0 L425.1,292.1 L425.6,293.2 L426.0,294.3 L426.4,295.4 L426.8,296.6 L427.1,297.8 L427.3,299.0 L427.5,300.2 L427.7,301.4 L428.0,302.6 L428.2,303.7 L428.5,304.9 L428.8,306.1 L429.2,307.2 L429.6,308.4 L429.9,309.6 L430.3,310.7 L430.7,311.9 L431.0,313.0 L431.4,314.2 L431.7,315.4 L432.0,316.5 L432.3,317.7 L432.7,318.9 L433.0,320.1 L433.3,321.2 L433.7,322.4 L434.1,323.5 L434.5,324.7 L434.9,325.8 L435.4,326.9 L435.8,328.0 L436.4,329.1 L436.9,330.2 L437.5,331.3 L438.1,332.3 L438.7,333.4 L439.4,334.4 L440.1,335.4 L440.8,336.4 L441.6,337.3 L442.3,338.3 L443.1,339.2 L443.9,340.1 L444.8,341.0 L445.6,341.8 L446.5,342.7 L447.4,343.5 L448.3,344.3 L449.2,345.1 L450.1,345.9 L451.0,346.7 L452.0,347.5 L452.9,348.3 L453.8,349.0 L454.8,349.8 L455.7,350.5 L456.7,351.3 L457.7,352.0 L458.7,352.7 L459.7,353.4 L460.7,354.1 L461.7,354.8 L462.7,355.4 L463.7,356.1 L464.7,356.7 L465.8,357.3 L466.8,357.9 L467.9,358.5 L469.0,359.1 L470.1,359.6 L471.2,360.2 L472.3,360.7 L473.4,361.1 L474.5,361.6 L475.6,362.0 L476.8,362.5 L477.9,362.8 L479.1,363.2 L480.3,363.6 L481.4,363.9 L482.6,364.2 L483.8,364.5 L485.0,364.8 L486.1,365.0 L487.3,365.3 L488.5,365.5 L489.7,365.7 L490.9,365.9 L492.1,366.1 L493.3,366.2 L494.5,366.4 L495.7,366.5 L496.9,366.7 L498.2,366.8 L499.4,366.9 L500.6,367.1 L501.8,367.2 L503.0,367.3 L504.2,367.4 L505.4,367.5 L506.6,367.6 L507.8,367.6 L509.1,367.7 L510.3,367.8 L511.5,367.9 L512.7,367.9 L513.9,368.0 L515.1,368.1 L516.3,368.1 L517.5,368.2 L518.7,368.2 L520.0,368.3 L521.2,368.3 L522.4,368.4 L523.6,368.4 L524.8,368.5 L526.0,368.5 L527.2,368.5 L528.4,368.6 L529.6,368.6 L530.9,368.7 L532.1,368.7 L533.3,368.7 L534.5,368.8 L535.7,368.8 L536.9,368.9 L538.1,368.9 L539.3,368.9 L540.6,369.0 L541.8,369.0 L543.0,369.1 L544.2,369.1 L545.4,369.2 L546.6,369.2 L547.8,369.3 L549.0,369.3 L550.2,369.3 L551.5,369.4 L552.7,369.4 L553.9,369.5 L555.1,369.5 L556.3,369.6 L557.5,369.6 L558.7,369.7 L559.9,369.7 L561.2,369.8 L562.4,369.8 L563.6,369.9 L564.8,369.9 L566.0,369.9 L567.2,370.0 L568.4,370.0 L569.6,370.1 L570.9,370.1 L572.1,370.2 L573.3,370.2 L574.5,370.3 L575.7,370.3 L576.9,370.3 L578.1,370.4 L579.3,370.4 L580.6,370.5 L581.8,370.5 L583.0,370.5 L584.2,370.6 L585.4,370.6 L586.6,370.6 L587.8,370.7 L589.0,370.7 L590.3,370.8 L591.5,370.8 L592.7,370.8 L593.9,370.8 L595.1,370.9 L596.3,370.9 L597.5,370.9 L598.7,371.0 L600.0,371.0 L601.2,371.0 L602.4,371.1 L603.6,371.1 L604.8,371.1 L606.0,371.1 L607.2,371.2 L608.4,371.2 L609.7,371.2 L610.9,371.2 L612.1,371.2 L613.3,371.3 L614.5,371.3 L615.7,371.3 L616.9,371.3 L618.1,371.3 L619.4,371.3 L620.6,371.4 L621.8,371.4 L623.0,371.4 L624.2,371.4 L625.4,371.4 L626.6,371.4 L627.8,371.5 L629.1,371.5 L630.3,371.5 L631.5,371.5 L632.7,371.5 L633.9,371.5 L635.1,371.5 L636.3,371.5 L637.5,371.5 L638.8,371.5 L640.0,371.5 L641.2,371.6 L642.4,371.6 L643.6,371.6 L644.8,371.6 L646.0,371.6 L647.3,371.6 L648.5,371.6 L649.7,371.6 L650.9,371.6 L652.1,371.6 L653.3,371.6 L654.5,371.6 L655.7,371.6 L657.0,371.6 L658.2,371.6 L659.4,371.6 L660.6,371.6 L661.8,371.6 L663.0,371.6 L664.2,371.6 L665.4,371.6 L666.7,371.6 L667.9,371.6 L669.1,371.6 L670.3,371.6 L671.5,371.6 L672.7,371.6 L673.9,371.6 L675.1,371.6 L676.4,371.6 L677.6,371.7 L678.8,371.7 L680.0,371.7 L681.2,371.7 L682.4,371.7 L683.6,371.7 L684.9,371.7 L686.1,371.7 L687.3,371.7 L688.5,371.7 L689.7,371.7 L690.9,371.7 L692.1,371.7 L693.3,371.7 L694.6,371.7 L695.8,371.7 L697.0,371.7 L698.2,371.7 L699.4,371.7 L700.6,371.7 L701.8,371.7 L703.0,371.7 L704.3,371.7 L705.5,371.7 L706.7,371.7 L707.9,371.7 L709.1,371.7 L710.3,371.7 L711.5,371.7 L712.7,371.7 L714.0,371.7 L715.2,371.7 L716.4,371.7 L717.6,371.7 L718.8,371.7 L720.0,371.7 L721.2,371.8 L722.4,371.8 L723.7,371.8 L724.9,371.8 L726.1,371.8 L727.3,371.8" stroke="#cf4456" stroke-width="1.5" stroke-dasharray="4.3 3.5" stroke-dashoffset="5.99"/>
<path d="M111.2,372.2 L112.5,372.2 L113.8,372.1 L115.1,372.1 L116.3,372.0 L117.6,372.0 L118.9,371.9 L120.2,371.8 L121.5,371.8 L122.8,371.7 L124.0,371.6 L125.3,371.5 L126.6,371.5 L127.9,371.4 L129.2,371.3 L130.5,371.2 L131.7,371.1 L133.0,371.0 L134.3,370.9 L135.6,370.8 L136.9,370.7 L138.1,370.6 L139.4,370.5 L140.7,370.4 L142.0,370.3 L143.3,370.2 L144.5,370.1 L145.8,370.0 L147.1,369.9 L148.4,369.8 L149.7,369.7 L150.9,369.6 L152.2,369.5 L153.5,369.4 L154.8,369.3 L156.1,369.2 L157.4,369.1 L158.6,369.0 L159.9,368.9 L161.2,368.8 L162.5,368.8 L163.8,368.7 L165.0,368.6 L166.3,368.5 L167.6,368.4 L168.9,368.3 L170.2,368.2 L171.5,368.1 L172.7,368.1 L174.0,368.0 L175.3,367.9 L176.6,367.8 L177.9,367.7 L179.2,367.6 L180.4,367.4 L181.7,367.3 L183.0,367.2 L184.3,367.1 L185.6,367.0 L186.8,366.8 L188.1,366.7 L189.4,366.6 L190.7,366.4 L191.9,366.3 L193.2,366.1 L194.5,366.0 L195.8,365.8 L197.0,365.6 L198.3,365.4 L199.6,365.2 L200.8,365.0 L202.1,364.8 L203.4,364.6 L204.7,364.4 L205.9,364.2 L207.2,364.0 L208.5,363.8 L209.7,363.6 L211.0,363.3 L212.3,363.1 L213.5,362.8 L214.8,362.6 L216.0,362.3 L217.3,362.0 L218.5,361.7 L219.8,361.3 L221.0,360.9 L222.2,360.5 L223.4,360.0 L224.6,359.5 L225.8,359.0 L226.9,358.4 L228.0,357.8 L229.1,357.1 L230.2,356.4 L231.3,355.7 L232.3,354.9 L233.3,354.1 L234.3,353.3 L235.3,352.4 L236.2,351.6 L237.1,350.6 L238.0,349.7 L238.8,348.7 L239.6,347.7 L240.4,346.7 L241.2,345.7 L241.9,344.6 L242.6,343.6 L243.3,342.5 L244.0,341.4 L244.7,340.3 L245.3,339.2 L246.0,338.1 L246.7,337.0 L247.4,335.9 L248.1,334.8 L248.7,333.7 L249.4,332.6 L250.1,331.5 L250.7,330.4 L251.4,329.3 L252.0,328.2 L252.6,327.1 L253.2,325.9 L253.8,324.8 L254.3,323.6 L254.8,322.4 L255.4,321.3 L255.9,320.1 L256.3,318.9 L256.8,317.7 L257.3,316.5 L257.8,315.3 L258.3,314.1 L258.7,312.9 L259.2,311.7 L259.7,310.5 L260.2,309.3 L260.6,308.1 L261.1,306.9 L261.5,305.7 L262.0,304.5 L262.4,303.3 L262.8,302.1 L263.2,300.9 L263.6,299.6 L263.9,298.4 L264.3,297.1 L264.5,295.9 L264.8,294.6 L265.0,293.3 L265.3,292.1 L265.5,290.8 L265.7,289.5 L265.8,288.2 L266.0,287.0 L266.1,285.7 L266.3,284.4 L266.4,283.2 L266.5,281.9 L266.6,280.7 L266.8,279.4 L266.9,278.2 L267.1,276.9 L267.4,275.7 L267.6,274.4 L267.9,273.2 L268.3,271.9 L268.8,270.6 L269.3,269.3 L269.9,268.0 L270.6,266.8 L271.5,265.7 L272.4,265.0 L273.5,264.5 L274.7,264.4 L276.0,264.6 L277.3,265.0 L278.5,265.7 L279.6,266.5 L280.5,267.4 L281.3,268.4 L282.1,269.4 L282.7,270.5 L283.4,271.6 L284.2,272.7 L285.0,273.7 L285.8,274.7 L286.7,275.7 L287.6,276.6 L288.5,277.4 L289.5,278.3 L290.6,279.0 L291.6,279.8 L292.7,280.4 L293.9,281.1 L295.0,281.6 L296.2,282.2 L297.4,282.7 L298.6,283.1 L299.8,283.6 L301.0,284.0 L302.3,284.3 L303.5,284.5 L304.8,284.6 L306.1,284.7 L307.4,284.6 L308.7,284.4 L309.9,284.1 L311.2,283.7 L312.3,283.2 L313.5,282.5 L314.6,281.9 L315.6,281.1 L316.7,280.3 L317.7,279.5 L318.7,278.7 L319.6,277.8 L320.6,277.0 L321.5,276.1 L322.5,275.2 L323.4,274.4 L324.4,273.6 L325.4,272.8 L326.4,272.0 L327.4,271.2 L328.5,270.5 L329.6,269.7 L330.7,269.1 L331.8,268.4 L332.9,267.8 L334.0,267.1 L335.2,266.6 L336.3,266.0 L337.5,265.5 L338.7,265.0 L339.9,264.6 L341.2,264.2 L342.4,263.8 L343.6,263.5 L344.9,263.2 L346.2,263.0 L347.4,262.8 L348.7,262.7 L350.0,262.5 L351.3,262.4 L352.6,262.2 L353.8,262.1 L355.1,261.9 L356.4,261.8 L357.7,261.7 L359.0,261.6 L360.3,261.6 L361.5,261.6 L362.8,261.6 L364.1,261.8 L365.3,261.9 L366.6,262.2 L367.9,262.4 L369.1,262.7 L370.4,263.0 L371.6,263.4 L372.9,263.7 L374.1,264.0 L375.4,264.4 L376.6,264.7 L377.9,265.1 L379.1,265.5 L380.2,266.0 L381.4,266.5 L382.5,267.1 L383.6,267.7 L384.8,268.3 L385.9,268.9 L387.0,269.6 L388.2,270.2 L389.4,270.7 L390.6,271.3 L391.8,271.8 L393.1,272.4 L394.3,272.9 L395.5,273.5 L396.6,274.1 L397.6,274.8 L398.6,275.5 L399.5,276.4 L400.3,277.3 L401.0,278.3 L401.6,279.5 L402.1,280.6 L402.5,281.9 L402.9,283.1 L403.3,284.4 L403.6,285.7 L403.9,287.0 L404.2,288.3 L404.6,289.6 L404.9,290.8 L405.2,292.1 L405.5,293.3 L405.8,294.6 L406.1,295.8 L406.5,297.0 L406.8,298.3 L407.1,299.5 L407.4,300.7 L407.7,302.0 L408.0,303.2 L408.3,304.4 L408.6,305.7 L408.9,306.9 L409.2,308.2 L409.5,309.4 L409.8,310.7 L410.1,311.9 L410.4,313.2 L410.7,314.4 L411.0,315.7 L411.2,317.0 L411.5,318.2 L411.8,319.5 L412.1,320.7 L412.3,322.0 L412.6,323.3 L412.8,324.5 L413.1,325.8 L413.3,327.0 L413.6,328.3 L413.8,329.6 L414.1,330.8 L414.3,332.1 L414.6,333.3 L414.8,334.6 L415.1,335.9 L415.3,337.1 L415.6,338.4 L415.9,339.6 L416.1,340.9 L416.4,342.2 L416.7,343.4 L416.9,344.7 L417.2,345.9 L417.5,347.2 L417.8,348.4 L418.2,349.7 L418.5,350.9 L418.8,352.1 L419.1,353.4 L419.5,354.6 L419.9,355.9 L420.2,357.1 L420.6,358.3 L421.1,359.5 L421.5,360.7 L422.0,361.9 L422.5,363.1 L423.0,364.3 L423.6,365.4 L424.3,366.5 L425.0,367.6 L425.8,368.7 L426.6,369.7 L427.5,370.6 L428.5,371.5 L429.6,372.1 L430.8,372.7 L432.0,373.0 L433.3,373.2 L434.6,373.1 L435.8,372.8 L437.0,372.4 L438.2,371.9 L439.4,371.3 L440.6,370.7 L441.7,370.1 L442.9,369.5 L444.0,368.9 L445.2,368.3 L446.3,367.7 L447.5,367.2 L448.6,366.6 L449.8,366.1 L450.9,365.6 L452.1,365.1 L453.3,364.6 L454.5,364.1 L455.7,363.7 L456.9,363.2 L458.1,362.8 L459.3,362.4 L460.6,361.9 L461.8,361.5 L463.0,361.1 L464.2,360.8 L465.5,360.4 L466.7,360.0 L468.0,359.7 L469.2,359.4 L470.5,359.2 L471.7,358.9 L473.0,358.7 L474.3,358.5 L475.5,358.4 L476.8,358.3 L478.1,358.2 L479.4,358.1 L480.7,358.1 L482.0,358.0 L483.3,358.0 L484.5,358.0 L485.8,358.0 L487.1,358.0 L488.4,358.0 L489.7,358.1 L491.0,358.1 L492.2,358.2 L493.5,358.2 L494.8,358.3 L496.1,358.3 L497.4,358.4 L498.7,358.4 L499.9,358.5 L501.2,358.5 L502.5,358.6 L503.8,358.6 L505.1,358.7 L506.4,358.7 L507.7,358.8 L508.9,358.8 L510.2,358.9 L511.5,358.9 L512.8,359.0 L514.1,359.0 L515.4,359.1 L516.6,359.1 L517.9,359.1 L519.2,359.2 L520.5,359.2 L521.8,359.3 L523.1,359.4 L524.4,359.4 L525.6,359.5 L526.9,359.5 L528.2,359.6 L529.5,359.6 L530.8,359.7 L532.1,359.7 L533.3,359.8 L534.6,359.9 L535.9,359.9 L537.2,360.0 L538.5,360.0 L539.8,360.1 L541.0,360.1 L542.3,360.2 L543.6,360.2 L544.9,360.3 L546.2,360.4 L547.5,360.4 L548.7,360.5 L550.0,360.5 L551.3,360.6 L552.6,360.6 L553.9,360.7 L555.2,360.7 L556.4,360.8 L557.7,360.8 L559.0,360.9 L560.3,360.9 L561.6,361.0 L562.9,361.0 L564.2,361.1 L565.4,361.1 L566.7,361.2 L568.0,361.2 L569.3,361.3 L570.6,361.3 L571.9,361.3 L573.1,361.4 L574.4,361.4 L575.7,361.5 L577.0,361.5 L578.3,361.6 L579.6,361.6 L580.9,361.7 L582.1,361.7 L583.4,361.7 L584.7,361.8 L586.0,361.8 L587.3,361.9 L588.6,361.9 L589.8,361.9 L591.1,362.0 L592.4,362.0 L593.7,362.0 L595.0,362.1 L596.3,362.1 L597.6,362.1 L598.8,362.2 L600.1,362.2 L601.4,362.2 L602.7,362.3 L604.0,362.3 L605.3,362.3 L606.5,362.3 L607.8,362.4 L609.1,362.4 L610.4,362.4 L611.7,362.4 L613.0,362.5 L614.3,362.5 L615.5,362.5 L616.8,362.5 L618.1,362.6 L619.4,362.6 L620.7,362.6 L622.0,362.6 L623.2,362.7 L624.5,362.7 L625.8,362.7 L627.1,362.8 L628.4,362.8 L629.7,362.8 L631.0,362.8 L632.2,362.9 L633.5,362.9 L634.8,362.9 L636.1,363.0 L637.4,363.0 L638.7,363.0 L639.9,363.1 L641.2,363.1 L642.5,363.2 L643.8,363.2 L645.1,363.2 L646.4,363.3 L647.7,363.3 L648.9,363.4 L650.2,363.4 L651.5,363.4 L652.8,363.5 L654.1,363.5 L655.4,363.6 L656.6,363.6 L657.9,363.6 L659.2,363.7 L660.5,363.7 L661.8,363.8 L663.1,363.8 L664.4,363.9 L665.6,363.9 L666.9,364.0 L668.2,364.0 L669.5,364.0 L670.8,364.1 L672.1,364.1 L673.3,364.2 L674.6,364.2 L675.9,364.3 L677.2,364.3 L678.5,364.4 L679.8,364.4 L681.1,364.4 L682.3,364.5 L683.6,364.5 L684.9,364.6 L686.2,364.6 L687.5,364.6 L688.8,364.7 L690.0,364.7 L691.3,364.8 L692.6,364.8 L693.9,364.9 L695.2,364.9 L696.5,364.9 L697.7,365.0 L699.0,365.0 L700.3,365.0 L701.6,365.1 L702.9,365.1 L704.2,365.1 L705.5,365.2 L706.7,365.2 L708.0,365.2 L709.3,365.3 L710.6,365.3 L711.9,365.3 L713.2,365.4 L714.4,365.4 L715.7,365.4 L717.0,365.4 L718.3,365.5 L719.6,365.5 L720.9,365.5 L722.2,365.5 L723.4,365.5 L724.7,365.6 L726.0,365.6 L727.3,365.6" stroke="#ff0808" stroke-width="1.6"/>
<path d="M190.8,367V386M186.1,367h9.4M186.1,386h9.4" stroke="#000" stroke-width="1.5"/>
<path d="M233.0,354.0V363.6M228.3,354.0h9.4M228.3,363.6h9.4" stroke="#000" stroke-width="1.5"/>
<path d="M251.4,324.6V335.8M246.7,324.6h9.4M246.7,335.8h9.4" stroke="#000" stroke-width="1.5"/>
<path d="M257.4,315.6V328M252.7,315.6h9.4M252.7,328h9.4" stroke="#000" stroke-width="1.5"/>
<path d="M263.4,297V308.6M258.7,297h9.4M258.7,308.6h9.4" stroke="#000" stroke-width="1.5"/>
<path d="M262.5,258.7V301.5M257.8,258.7h9.4M257.8,301.5h9.4" stroke="#000" stroke-width="1.5"/>
<path d="M268.0,239.2V283.4M263.3,239.2h9.4M263.3,283.4h9.4" stroke="#000" stroke-width="1.5"/>
<path d="M269.0,264.4V279.4M264.3,264.4h9.4M264.3,279.4h9.4" stroke="#000" stroke-width="1.5"/>
<path d="M273.4,256.9V268.9M268.7,256.9h9.4M268.7,268.9h9.4" stroke="#000" stroke-width="1.5"/>
<path d="M279.0,262V274M274.3,262h9.4M274.3,274h9.4" stroke="#000" stroke-width="1.5"/>
<path d="M282.5,264.1V303.7M277.8,264.1h9.4M277.8,303.7h9.4" stroke="#000" stroke-width="1.5"/>
<path d="M283.7,269.5V281.5M279.0,269.5h9.4M279.0,281.5h9.4" stroke="#000" stroke-width="1.5"/>
<path d="M292.0,273.5V285.9M287.3,273.5h9.4M287.3,285.9h9.4" stroke="#000" stroke-width="1.5"/>
<path d="M297.2,271.7V284.4M292.5,271.7h9.4M292.5,284.4h9.4" stroke="#000" stroke-width="1.5"/>
<path d="M303.6,273.3V295.7M298.9,273.3h9.4M298.9,295.7h9.4" stroke="#000" stroke-width="1.5"/>
<path d="M309.6,278.5V292.3M304.9,278.5h9.4M304.9,292.3h9.4" stroke="#000" stroke-width="1.5"/>
<path d="M321.3,235.7V285.6M316.6,235.7h9.4M316.6,285.6h9.4" stroke="#000" stroke-width="1.5"/>
<path d="M323.8,272.2V285.0M319.1,272.2h9.4M319.1,285.0h9.4" stroke="#000" stroke-width="1.5"/>
<path d="M338.7,261.7V276.3M334.0,261.7h9.4M334.0,276.3h9.4" stroke="#000" stroke-width="1.5"/>
<path d="M350.9,251V265M346.2,251h9.4M346.2,265h9.4" stroke="#000" stroke-width="1.5"/>
<path d="M362.1,254.4V268.7M357.4,254.4h9.4M357.4,268.7h9.4" stroke="#000" stroke-width="1.5"/>
<path d="M368.0,244.3V286.6M363.3,244.3h9.4M363.3,286.6h9.4" stroke="#000" stroke-width="1.5"/>
<path d="M373.3,254.4V268.7M368.6,254.4h9.4M368.6,268.7h9.4" stroke="#000" stroke-width="1.5"/>
<path d="M384.6,266.3V276.6M379.9,266.3h9.4M379.9,276.6h9.4" stroke="#000" stroke-width="1.5"/>
<path d="M396.6,263.6V277M391.9,263.6h9.4M391.9,277h9.4" stroke="#000" stroke-width="1.5"/>
<path d="M414.8,330.3V351.3M410.1,330.3h9.4M410.1,351.3h9.4" stroke="#000" stroke-width="1.5"/>
<path d="M450.0,360.6V376.7M445.3,360.6h9.4M445.3,376.7h9.4" stroke="#000" stroke-width="1.5"/>
<path d="M477.8,331.3V361.8M473.1,331.3h9.4M473.1,361.8h9.4" stroke="#000" stroke-width="1.5"/>
<path d="M499.8,361V375.8M495.1,361h9.4M495.1,375.8h9.4" stroke="#000" stroke-width="1.5"/>
<path d="M528.7,342V351.6M524.0,342h9.4M524.0,351.6h9.4" stroke="#000" stroke-width="1.5"/>
<path d="M574.8,349.7V361.5M570.1,349.7h9.4M570.1,361.5h9.4" stroke="#000" stroke-width="1.5"/>
<path d="M698.8,357.8V370.6M694.1,357.8h9.4M694.1,370.6h9.4" stroke="#000" stroke-width="1.5"/>
<circle cx="145.1" cy="373.9" r="5.4" fill="#000"/>
<circle cx="190.8" cy="377.6" r="5.4" fill="#000"/>
<circle cx="216.0" cy="364.2" r="5.4" fill="#000"/>
<circle cx="233.0" cy="358.8" r="5.4" fill="#000"/>
<circle cx="245.3" cy="339.9" r="5.4" fill="#000"/>
<circle cx="251.4" cy="330.2" r="5.4" fill="#000"/>
<circle cx="257.4" cy="321.8" r="5.4" fill="#000"/>
<circle cx="263.4" cy="303.2" r="5.4" fill="#000"/>
<circle cx="262.5" cy="280.1" r="5.4" fill="#000"/>
<circle cx="268.0" cy="261.8" r="5.4" fill="#000"/>
<circle cx="269.0" cy="271.8" r="5.4" fill="#000"/>
<circle cx="273.4" cy="262.9" r="5.4" fill="#000"/>
<circle cx="279.0" cy="268" r="5.4" fill="#000"/>
<circle cx="282.5" cy="283.9" r="5.4" fill="#000"/>
<circle cx="283.7" cy="275.5" r="5.4" fill="#000"/>
<circle cx="292.0" cy="279.7" r="5.4" fill="#000"/>
<circle cx="297.2" cy="278" r="5.4" fill="#000"/>
<circle cx="303.6" cy="283.9" r="5.4" fill="#000"/>
<circle cx="309.6" cy="285.6" r="5.4" fill="#000"/>
<circle cx="321.3" cy="260.4" r="5.4" fill="#000"/>
<circle cx="323.8" cy="278.4" r="5.4" fill="#000"/>
<circle cx="338.7" cy="268.8" r="5.4" fill="#000"/>
<circle cx="350.9" cy="257.8" r="5.4" fill="#000"/>
<circle cx="362.1" cy="261.6" r="5.4" fill="#000"/>
<circle cx="368.0" cy="265.3" r="5.4" fill="#000"/>
<circle cx="373.3" cy="262" r="5.4" fill="#000"/>
<circle cx="384.6" cy="271.5" r="5.4" fill="#000"/>
<circle cx="396.6" cy="270.4" r="5.4" fill="#000"/>
<circle cx="414.8" cy="341.3" r="5.4" fill="#000"/>
<circle cx="450.0" cy="369.3" r="5.4" fill="#000"/>
<circle cx="477.8" cy="348" r="5.4" fill="#000"/>
<circle cx="492.5" cy="357.8" r="5.4" fill="#000"/>
<circle cx="499.8" cy="368.5" r="5.4" fill="#000"/>
<circle cx="509.2" cy="360.8" r="5.4" fill="#000"/>
<circle cx="516.8" cy="362.5" r="5.4" fill="#000"/>
<circle cx="528.7" cy="347" r="5.4" fill="#000"/>
<circle cx="540.9" cy="360.8" r="5.4" fill="#000"/>
<circle cx="550.8" cy="356.1" r="5.4" fill="#000"/>
<circle cx="574.8" cy="355.4" r="5.4" fill="#000"/>
<circle cx="580.9" cy="362.2" r="5.4" fill="#000"/>
<circle cx="598.8" cy="359.8" r="5.4" fill="#000"/>
<circle cx="635.5" cy="366.9" r="5.4" fill="#000"/>
<circle cx="679.5" cy="369.6" r="5.4" fill="#000"/>
<circle cx="698.8" cy="364.2" r="5.4" fill="#000"/>
</g>
<circle cx="386" cy="508" r="5" fill="none" stroke="#0c0cff" stroke-width="1.7"/>
<circle cx="388.8" cy="485.4" r="5" fill="none" stroke="#0c0cff" stroke-width="1.7"/>
<circle cx="392.1" cy="493.5" r="5" fill="none" stroke="#0c0cff" stroke-width="1.7"/>
<circle cx="397.9" cy="504.8" r="5" fill="none" stroke="#0c0cff" stroke-width="1.7"/>
<circle cx="403.6" cy="520.5" r="5" fill="none" stroke="#0c0cff" stroke-width="1.7"/>
<circle cx="409.6" cy="498.3" r="5" fill="none" stroke="#0c0cff" stroke-width="1.7"/>
<circle cx="421.3" cy="490.2" r="5" fill="none" stroke="#0c0cff" stroke-width="1.7"/>
<circle cx="433.3" cy="503.5" r="5" fill="none" stroke="#0c0cff" stroke-width="1.7"/>
<circle cx="444.8" cy="513.5" r="5" fill="none" stroke="#0c0cff" stroke-width="1.7"/>
<circle cx="456.6" cy="507.6" r="5" fill="none" stroke="#0c0cff" stroke-width="1.7"/>
<circle cx="462.5" cy="508.7" r="5" fill="none" stroke="#0c0cff" stroke-width="1.7"/>
<circle cx="468.3" cy="506.4" r="5" fill="none" stroke="#0c0cff" stroke-width="1.7"/>
<circle cx="474.2" cy="506.4" r="5" fill="none" stroke="#0c0cff" stroke-width="1.7"/>
<circle cx="480.2" cy="502.4" r="5" fill="none" stroke="#0c0cff" stroke-width="1.7"/>
<circle cx="485.7" cy="492.7" r="5" fill="none" stroke="#0c0cff" stroke-width="1.7"/>
<circle cx="145.1" cy="516.4" r="5.4" fill="#000"/>
<circle cx="190.8" cy="515.4" r="5.4" fill="#000"/>
<circle cx="216.0" cy="509.4" r="5.4" fill="#000"/>
<circle cx="233.0" cy="515.9" r="5.4" fill="#000"/>
<circle cx="245.3" cy="493.1" r="5.4" fill="#000"/>
<circle cx="251.4" cy="502" r="5.4" fill="#000"/>
<circle cx="257.4" cy="513.6" r="5.4" fill="#000"/>
<circle cx="263.4" cy="517" r="5.4" fill="#000"/>
<circle cx="262.5" cy="494.3" r="5.4" fill="#000"/>
<circle cx="268.0" cy="496.7" r="5.4" fill="#000"/>
<circle cx="269.0" cy="498.3" r="5.4" fill="#000"/>
<circle cx="273.4" cy="497.5" r="5.4" fill="#000"/>
<circle cx="279.0" cy="508.1" r="5.4" fill="#000"/>
<circle cx="282.5" cy="510.0" r="5.4" fill="#000"/>
<circle cx="283.7" cy="510.6" r="5.4" fill="#000"/>
<circle cx="292.0" cy="501.3" r="5.4" fill="#000"/>
<circle cx="297.2" cy="494" r="5.4" fill="#000"/>
<circle cx="303.6" cy="503.7" r="5.4" fill="#000"/>
<circle cx="309.6" cy="507.2" r="5.4" fill="#000"/>
<circle cx="321.3" cy="496.7" r="5.4" fill="#000"/>
<circle cx="323.8" cy="508.9" r="5.4" fill="#000"/>
<circle cx="338.7" cy="507.2" r="5.4" fill="#000"/>
<circle cx="350.9" cy="497" r="5.4" fill="#000"/>
<circle cx="362.1" cy="503.5" r="5.4" fill="#000"/>
<circle cx="368.0" cy="506.4" r="5.4" fill="#000"/>
<circle cx="373.3" cy="501.3" r="5.4" fill="#000"/>
<circle cx="384.6" cy="513.2" r="5.4" fill="#000"/>
<circle cx="396.6" cy="496.7" r="5.4" fill="#000"/>
<circle cx="414.8" cy="509.4" r="5.4" fill="#000"/>
<circle cx="450.0" cy="508.9" r="5.4" fill="#000"/>
<circle cx="477.8" cy="495.9" r="5.4" fill="#000"/>
<circle cx="492.5" cy="501.6" r="5.4" fill="#000"/>
<circle cx="499.8" cy="516.2" r="5.4" fill="#000"/>
<circle cx="509.2" cy="508.9" r="5.4" fill="#000"/>
<circle cx="516.8" cy="512.6" r="5.4" fill="#000"/>
<circle cx="528.7" cy="475.2" r="5.4" fill="#000"/>
<circle cx="540.9" cy="506.8" r="5.4" fill="#000"/>
<circle cx="550.8" cy="494.5" r="5.4" fill="#000"/>
<circle cx="574.8" cy="496.7" r="5.4" fill="#000"/>
<circle cx="580.9" cy="507.4" r="5.4" fill="#000"/>
<circle cx="598.8" cy="498" r="5.4" fill="#000"/>
<circle cx="635.5" cy="517.4" r="5.4" fill="#000"/>
<circle cx="679.5" cy="516.2" r="5.4" fill="#000"/>
<circle cx="698.8" cy="503.3" r="5.4" fill="#000"/>
<path d="M111.2,432.3h12M111.2,420.4h24M111.2,408.6h12M111.2,396.7h12M111.2,384.8h12M111.2,372.9h24M111.2,361.1h12M111.2,349.2h12M111.2,337.3h12M111.2,325.5h24M111.2,313.6h12M111.2,301.7h12M111.2,289.9h12M111.2,278.0h24M111.2,266.1h12M111.2,254.3h12M111.2,242.4h12M111.2,230.5h24M111.2,218.7h12M111.2,206.8h12M111.2,194.9h12M111.2,183.1h24M111.2,171.2h12M111.2,159.3h12M111.2,147.5h12M111.2,135.6h24M111.2,123.7h12M111.2,111.9h12M111.2,100.0h12M111.2,88.1h24M111.2,76.3h12M111.2,64.4h12M111.2,52.5h12M111.2,40.7h24M111.2,28.8h12M111.2,16.9h12M111.3,441.4v-5.5M111.3,565.85v-2.8M140.6,441.4v-10.5M140.6,565.85v-5.5M169.9,441.4v-5.5M169.9,565.85v-2.8M199.3,441.4v-5.5M199.3,565.85v-2.8M228.6,441.4v-5.5M228.6,565.85v-2.8M258.0,441.4v-10.5M258.0,565.85v-5.5M287.3,441.4v-5.5M287.3,565.85v-2.8M316.7,441.4v-5.5M316.7,565.85v-2.8M346.0,441.4v-5.5M346.0,565.85v-2.8M375.4,441.4v-10.5M375.4,565.85v-5.5M404.7,441.4v-5.5M404.7,565.85v-2.8M434.1,441.4v-5.5M434.1,565.85v-2.8M463.4,441.4v-5.5M463.4,565.85v-2.8M492.8,441.4v-10.5M492.8,565.85v-5.5M522.1,441.4v-5.5M522.1,565.85v-2.8M551.5,441.4v-5.5M551.5,565.85v-2.8M580.8,441.4v-5.5M580.8,565.85v-2.8M610.2,441.4v-10.5M610.2,565.85v-5.5M639.5,441.4v-5.5M639.5,565.85v-2.8M668.9,441.4v-5.5M668.9,565.85v-2.8M698.2,441.4v-5.5M698.2,565.85v-2.8M727.6,441.4v-10.5M727.6,565.85v-5.5M111.2,453.0h15M111.2,504.0h15M111.2,555.0h15" stroke="#000" stroke-width="1.3" fill="none"/>
<path d="M111.2,16.9H727.25V565.85" stroke="#222" stroke-width="1.6" fill="none" stroke-linejoin="miter"/>
<path d="M111.2,16.099999999999998V565.85H728.05" stroke="#000" stroke-width="2.0" fill="none" stroke-linejoin="miter"/>
<path d="M111.2,441.4H727.25" stroke="#000" stroke-width="1.45" fill="none"/>
<path d="M111.2,373 V440.59999999999997" stroke="#e58a9a" stroke-width="3.0" fill="none"/>
<path d="M111.2,373 V440.59999999999997" stroke="#000" stroke-width="1.5" fill="none"/>
<path d="M111.2,372.5 V440.4" stroke="#d01f38" stroke-width="1.6" stroke-dasharray="4.3 3.5" fill="none"/>
<text x="105.1" y="428.9" font-family="Liberation Sans, Arial, Helvetica, sans-serif" font-size="27.6" text-anchor="end">-20</text>
<text x="105.1" y="381.4" font-family="Liberation Sans, Arial, Helvetica, sans-serif" font-size="27.6" text-anchor="end">0</text>
<text x="105.1" y="334.0" font-family="Liberation Sans, Arial, Helvetica, sans-serif" font-size="27.6" text-anchor="end">20</text>
<text x="105.1" y="286.5" font-family="Liberation Sans, Arial, Helvetica, sans-serif" font-size="27.6" text-anchor="end">40</text>
<text x="105.1" y="239.0" font-family="Liberation Sans, Arial, Helvetica, sans-serif" font-size="27.6" text-anchor="end">60</text>
<text x="105.1" y="191.6" font-family="Liberation Sans, Arial, Helvetica, sans-serif" font-size="27.6" text-anchor="end">80</text>
<text x="105.1" y="144.1" font-family="Liberation Sans, Arial, Helvetica, sans-serif" font-size="27.6" text-anchor="end">100</text>
<text x="105.1" y="96.6" font-family="Liberation Sans, Arial, Helvetica, sans-serif" font-size="27.6" text-anchor="end">120</text>
<text x="105.1" y="49.2" font-family="Liberation Sans, Arial, Helvetica, sans-serif" font-size="27.6" text-anchor="end">140</text>
<text x="105.4" y="461.7" font-family="Liberation Sans, Arial, Helvetica, sans-serif" font-size="27.6" text-anchor="end">5</text>
<text x="105.4" y="512.7" font-family="Liberation Sans, Arial, Helvetica, sans-serif" font-size="27.6" text-anchor="end">0</text>
<text x="105.4" y="563.7" font-family="Liberation Sans, Arial, Helvetica, sans-serif" font-size="27.6" text-anchor="end">-5</text>
<text x="139.6" y="590.4" font-family="Liberation Sans, Arial, Helvetica, sans-serif" font-size="27.6" text-anchor="middle">4</text>
<text x="257.0" y="590.4" font-family="Liberation Sans, Arial, Helvetica, sans-serif" font-size="27.6" text-anchor="middle">4.2</text>
<text x="374.4" y="590.4" font-family="Liberation Sans, Arial, Helvetica, sans-serif" font-size="27.6" text-anchor="middle">4.4</text>
<text x="491.8" y="590.4" font-family="Liberation Sans, Arial, Helvetica, sans-serif" font-size="27.6" text-anchor="middle">4.6</text>
<text x="609.2" y="590.4" font-family="Liberation Sans, Arial, Helvetica, sans-serif" font-size="27.6" text-anchor="middle">4.8</text>
<path d="M499.1,62.5V82.8" stroke="#151515" stroke-width="1.2"/><circle cx="499.1" cy="72.6" r="5.2" fill="#000"/>
<path d="M499.1,96.2V116.8" stroke="#151515" stroke-width="1.2"/><circle cx="499.1" cy="106.7" r="5.1" fill="none" stroke="#0c0cff" stroke-width="1.5"/>
<path d="M480,141.3H518.3" stroke="#ff0808" stroke-width="1.2"/>
<path d="M480,175.6H518.3" stroke="#0c0cff" stroke-width="1.2" stroke-dasharray="4 3.6"/>
<path d="M480,209.6H518.3" stroke="#cf4456" stroke-width="1.2" stroke-dasharray="4 3.6"/>
<text x="527.4" y="79.3" font-family="Liberation Sans, Arial, Helvetica, sans-serif" font-size="19.4">XYZ Data</text>
<text x="527.4" y="113.3" font-family="Liberation Sans, Arial, Helvetica, sans-serif" font-size="19.4">R scan Data</text>
<text x="527.4" y="147.4" font-family="Liberation Sans, Arial, Helvetica, sans-serif" font-size="19.4">Total fit</text>
<text x="527.4" y="180.8" font-family="Liberation Sans, Arial, Helvetica, sans-serif" font-size="19.4">BWs, Solution I</text>
<text x="527.4" y="214.6" font-family="Liberation Sans, Arial, Helvetica, sans-serif" font-size="19.4">BWs, Solution II</text>
<text transform="translate(47.8,288) rotate(-90)" font-family="Liberation Sans, Arial, Helvetica, sans-serif" font-size="32" xml:space="preserve"><tspan x="-0.20" y="0" font-size="32">σ</tspan><tspan x="18.62" y="0" font-size="32">(</tspan><tspan x="30.28" y="0" font-size="32">e</tspan><tspan x="47.22" y="-15.4" font-size="21">+</tspan><tspan x="60.08" y="0" font-size="32">e</tspan><tspan x="77.10" y="-15.9" font-size="21">-</tspan><tspan x="83.07" y="4.2" font-size="40.6" font-family="DejaVu Sans Light, DejaVu Sans, sans-serif">→</tspan><tspan x="116.04" y="0" font-size="34.2" font-family="Liberation Serif, Times New Roman, serif">π</tspan><tspan x="132.87" y="-10.7" font-size="21">+</tspan><tspan x="145.71" y="0" font-size="35.5" font-family="Liberation Serif, Times New Roman, serif">π</tspan><tspan x="163.05" y="-15.9" font-size="21">-</tspan><tspan x="168.88" y="0" font-size="32">h</tspan><tspan x="185.84" y="8.8" font-size="22.5">c</tspan><tspan x="195.67" y="0" font-size="32">) </tspan><tspan x="216.27" y="0" font-size="32">(</tspan><tspan x="226.99" y="0" font-size="32">p</tspan><tspan x="244.74" y="0" font-size="32">b</tspan><tspan x="263.87" y="0" font-size="32">)</tspan></text>
<g transform="translate(44.5,457.0) rotate(-90) scale(1.06,1)" font-family="Liberation Serif, Times New Roman, serif" font-size="34"><text x="0" y="0">χ</text></g>
<text x="623.5" y="623.6" font-family="Liberation Sans, Arial, Helvetica, sans-serif" font-size="30.2">s (GeV)</text>
<path d="M611.3,615.8l1.7,-1.1 l2.5,12 l4.7,-27.3 h18.4" stroke="#000" stroke-width="1.1" fill="none"/>
</svg>
</body></html>
